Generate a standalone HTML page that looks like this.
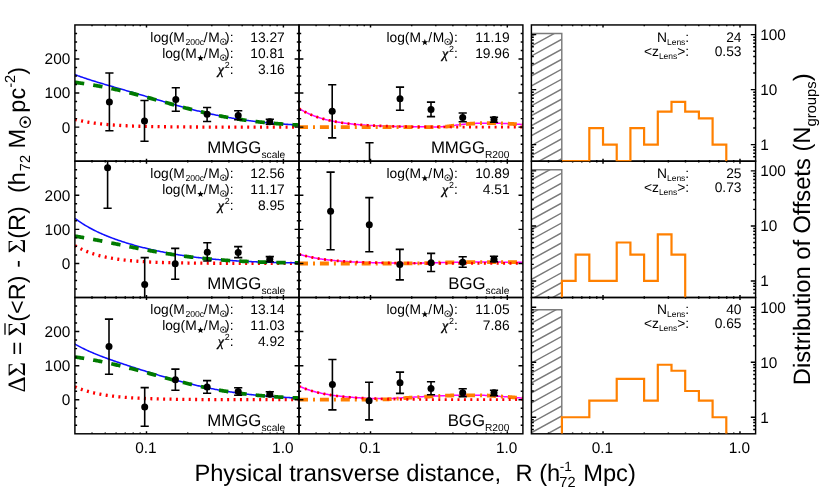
<!DOCTYPE html>
<html><head><meta charset="utf-8"><title>Lensing profiles</title>
<style>html,body{margin:0;padding:0;background:#fff;}body{width:830px;height:498px;overflow:hidden;font-family:"Liberation Sans",sans-serif;}svg{display:block;will-change:transform;}svg text{white-space:pre;font-kerning:none;font-variant-ligatures:none;}</style>
</head><body>
<svg width="830" height="498" viewBox="0 0 830 498" font-family="Liberation Sans, sans-serif" fill="#000" text-rendering="geometricPrecision">
<rect x="0" y="0" width="830" height="498" fill="#fff"/>
<defs>
<clipPath id="c00"><rect x="74.9" y="24.95" width="224.1" height="136.25"/></clipPath>
<clipPath id="c01"><rect x="74.9" y="161.2" width="224.1" height="136.3"/></clipPath>
<clipPath id="c02"><rect x="74.9" y="297.5" width="224.1" height="136.3"/></clipPath>
<clipPath id="c10"><rect x="299" y="24.95" width="223.9" height="136.25"/></clipPath>
<clipPath id="c11"><rect x="299" y="161.2" width="223.9" height="136.3"/></clipPath>
<clipPath id="c12"><rect x="299" y="297.5" width="223.9" height="136.3"/></clipPath>
<clipPath id="c20"><rect x="531.4" y="24.95" width="224.2" height="136.25"/></clipPath>
<clipPath id="c21"><rect x="531.4" y="161.2" width="224.2" height="136.3"/></clipPath>
<clipPath id="c22"><rect x="531.4" y="297.5" width="224.2" height="136.3"/></clipPath>
</defs>
<g clip-path="url(#c20)">
<clipPath id="h0"><rect x="531.4" y="33.55" width="30.39" height="127.65"/></clipPath>
<path d="M530.4 36.66 L562.79 18.85 M530.4 46.61 L562.79 28.8 M530.4 56.56 L562.79 38.75 M530.4 66.51 L562.79 48.7 M530.4 76.46 L562.79 58.65 M530.4 86.41 L562.79 68.6 M530.4 96.36 L562.79 78.55 M530.4 106.31 L562.79 88.5 M530.4 116.26 L562.79 98.45 M530.4 126.21 L562.79 108.4 M530.4 136.16 L562.79 118.35 M530.4 146.11 L562.79 128.3 M530.4 156.06 L562.79 138.25 M530.4 166.01 L562.79 148.2 M530.4 175.96 L562.79 158.15 M530.4 185.91 L562.79 168.1 M530.4 195.86 L562.79 178.05 M530.4 205.81 L562.79 188 M530.4 215.76 L562.79 197.95" stroke="#7a7a7a" stroke-width="1.45" fill="none" clip-path="url(#h0)"/>
<path d="M531.4 33.55 L561.79 33.55 L561.79 161.2" stroke="#7a7a7a" stroke-width="1.45" fill="none"/>
</g>
<g clip-path="url(#c21)">
<clipPath id="h1"><rect x="531.4" y="169.8" width="30.39" height="127.7"/></clipPath>
<path d="M530.4 170.46 L562.79 152.65 M530.4 180.41 L562.79 162.6 M530.4 190.36 L562.79 172.55 M530.4 200.31 L562.79 182.5 M530.4 210.26 L562.79 192.45 M530.4 220.21 L562.79 202.4 M530.4 230.16 L562.79 212.35 M530.4 240.11 L562.79 222.3 M530.4 250.06 L562.79 232.25 M530.4 260.01 L562.79 242.2 M530.4 269.96 L562.79 252.15 M530.4 279.91 L562.79 262.1 M530.4 289.86 L562.79 272.05 M530.4 299.81 L562.79 282 M530.4 309.76 L562.79 291.95 M530.4 319.71 L562.79 301.9 M530.4 329.66 L562.79 311.85 M530.4 339.61 L562.79 321.8 M530.4 349.56 L562.79 331.75" stroke="#7a7a7a" stroke-width="1.45" fill="none" clip-path="url(#h1)"/>
<path d="M531.4 169.8 L561.79 169.8 L561.79 297.5" stroke="#7a7a7a" stroke-width="1.45" fill="none"/>
</g>
<g clip-path="url(#c22)">
<clipPath id="h2"><rect x="531.4" y="309.8" width="30.39" height="124"/></clipPath>
<path d="M530.4 313.86 L562.79 296.05 M530.4 323.81 L562.79 306 M530.4 333.76 L562.79 315.95 M530.4 343.71 L562.79 325.9 M530.4 353.66 L562.79 335.85 M530.4 363.61 L562.79 345.8 M530.4 373.56 L562.79 355.75 M530.4 383.51 L562.79 365.7 M530.4 393.46 L562.79 375.65 M530.4 403.41 L562.79 385.6 M530.4 413.36 L562.79 395.55 M530.4 423.31 L562.79 405.5 M530.4 433.26 L562.79 415.45 M530.4 443.21 L562.79 425.4 M530.4 453.16 L562.79 435.35 M530.4 463.11 L562.79 445.3 M530.4 473.06 L562.79 455.25 M530.4 483.01 L562.79 465.2" stroke="#7a7a7a" stroke-width="1.45" fill="none" clip-path="url(#h2)"/>
<path d="M531.4 309.8 L561.79 309.8 L561.79 433.8" stroke="#7a7a7a" stroke-width="1.45" fill="none"/>
</g>
<g clip-path="url(#c00)" fill="none">
<path d="M74.90 119.36 L75.84 119.60 L76.78 119.83 L77.71 120.06 L78.65 120.28 L79.59 120.49 L80.53 120.70 L81.46 120.90 L82.40 121.09 L83.34 121.28 L84.28 121.46 L85.21 121.64 L86.15 121.81 L87.09 121.98 L88.03 122.14 L88.96 122.29 L89.90 122.44 L90.84 122.59 L91.78 122.73 L92.72 122.87 L93.65 123.00 L94.59 123.13 L95.53 123.25 L96.47 123.37 L97.40 123.49 L98.34 123.60 L99.28 123.71 L100.22 123.82 L101.15 123.92 L102.09 124.02 L103.03 124.12 L103.97 124.21 L104.91 124.30 L105.84 124.39 L106.78 124.48 L107.72 124.56 L108.66 124.64 L109.59 124.72 L110.53 124.79 L111.47 124.86 L112.41 124.93 L113.34 125.00 L114.28 125.07 L115.22 125.13 L116.16 125.20 L117.09 125.26 L118.03 125.31 L118.97 125.37 L119.91 125.43 L120.85 125.48 L121.78 125.53 L122.72 125.58 L123.66 125.63 L124.60 125.68 L125.53 125.72 L126.47 125.76 L127.41 125.81 L128.35 125.85 L129.28 125.89 L130.22 125.93 L131.16 125.97 L132.10 126.00 L133.03 126.04 L133.97 126.07 L134.91 126.10 L135.85 126.14 L136.79 126.17 L137.72 126.20 L138.66 126.23 L139.60 126.25 L140.54 126.28 L141.47 126.31 L142.41 126.33 L143.35 126.36 L144.29 126.38 L145.22 126.41 L146.16 126.43 L147.10 126.45 L148.04 126.47 L148.97 126.49 L149.91 126.51 L150.85 126.53 L151.79 126.55 L152.73 126.57 L153.66 126.59 L154.60 126.60 L155.54 126.62 L156.48 126.64 L157.41 126.65 L158.35 126.67 L159.29 126.68 L160.23 126.70 L161.16 126.71 L162.10 126.72 L163.04 126.74 L163.98 126.75 L164.92 126.76 L165.85 126.77 L166.79 126.78 L167.73 126.79 L168.67 126.81 L169.60 126.82 L170.54 126.83 L171.48 126.84 L172.42 126.84 L173.35 126.85 L174.29 126.86 L175.23 126.87 L176.17 126.88 L177.10 126.89 L178.04 126.90 L178.98 126.90 L179.92 126.91 L180.86 126.92 L181.79 126.92 L182.73 126.93 L183.67 126.94 L184.61 126.94 L185.54 126.95 L186.48 126.96 L187.42 126.96 L188.36 126.97 L189.29 126.97 L190.23 126.98 L191.17 126.98 L192.11 126.99 L193.04 126.99 L193.98 127.00 L194.92 127.00 L195.86 127.00 L196.80 127.01 L197.73 127.01 L198.67 127.02 L199.61 127.02 L200.55 127.02 L201.48 127.03 L202.42 127.03 L203.36 127.03 L204.30 127.04 L205.23 127.04 L206.17 127.04 L207.11 127.05 L208.05 127.05 L208.98 127.05 L209.92 127.05 L210.86 127.06 L211.80 127.06 L212.74 127.06 L213.67 127.06 L214.61 127.07 L215.55 127.07 L216.49 127.07 L217.42 127.07 L218.36 127.08 L219.30 127.08 L220.24 127.08 L221.17 127.08 L222.11 127.08 L223.05 127.08 L223.99 127.09 L224.93 127.09 L225.86 127.09 L226.80 127.09 L227.74 127.09 L228.68 127.09 L229.61 127.09 L230.55 127.10 L231.49 127.10 L232.43 127.10 L233.36 127.10 L234.30 127.10 L235.24 127.10 L236.18 127.10 L237.11 127.10 L238.05 127.11 L238.99 127.11 L239.93 127.11 L240.87 127.11 L241.80 127.11 L242.74 127.11 L243.68 127.11 L244.62 127.11 L245.55 127.11 L246.49 127.11 L247.43 127.11 L248.37 127.11 L249.30 127.12 L250.24 127.12 L251.18 127.12 L252.12 127.12 L253.05 127.12 L253.99 127.12 L254.93 127.12 L255.87 127.12 L256.81 127.12 L257.74 127.12 L258.68 127.12 L259.62 127.12 L260.56 127.12 L261.49 127.12 L262.43 127.12 L263.37 127.12 L264.31 127.12 L265.24 127.12 L266.18 127.13 L267.12 127.13 L268.06 127.13 L268.99 127.13 L269.93 127.13 L270.87 127.13 L271.81 127.13 L272.75 127.13 L273.68 127.13 L274.62 127.13 L275.56 127.13 L276.50 127.13 L277.43 127.13 L278.37 127.13 L279.31 127.13 L280.25 127.13 L281.18 127.13 L282.12 127.13 L283.06 127.13 L284.00 127.13 L284.94 127.13 L285.87 127.13 L286.81 127.13 L287.75 127.13 L288.69 127.13 L289.62 127.13 L290.56 127.13 L291.50 127.13 L292.44 127.13 L293.37 127.13 L294.31 127.13 L295.25 127.13 L296.19 127.13 L297.12 127.13 L298.06 127.13 L299.00 127.13" stroke="#ff0000" stroke-width="3.3" stroke-dasharray="2 4.4"/>
<path d="M74.90 74.55 L75.84 74.92 L76.78 75.27 L77.71 75.63 L78.65 75.97 L79.59 76.32 L80.53 76.65 L81.46 76.99 L82.40 77.32 L83.34 77.64 L84.28 77.96 L85.21 78.28 L86.15 78.60 L87.09 78.91 L88.03 79.22 L88.96 79.52 L89.90 79.82 L90.84 80.12 L91.78 80.42 L92.72 80.72 L93.65 81.01 L94.59 81.30 L95.53 81.59 L96.47 81.87 L97.40 82.16 L98.34 82.44 L99.28 82.73 L100.22 83.01 L101.15 83.29 L102.09 83.56 L103.03 83.84 L103.97 84.12 L104.91 84.39 L105.84 84.67 L106.78 84.94 L107.72 85.22 L108.66 85.49 L109.59 85.76 L110.53 86.03 L111.47 86.30 L112.41 86.58 L113.34 86.85 L114.28 87.12 L115.22 87.39 L116.16 87.66 L117.09 87.93 L118.03 88.20 L118.97 88.47 L119.91 88.74 L120.85 89.01 L121.78 89.28 L122.72 89.55 L123.66 89.83 L124.60 90.10 L125.53 90.37 L126.47 90.64 L127.41 90.91 L128.35 91.18 L129.28 91.46 L130.22 91.73 L131.16 92.00 L132.10 92.28 L133.03 92.55 L133.97 92.82 L134.91 93.10 L135.85 93.37 L136.79 93.65 L137.72 93.92 L138.66 94.20 L139.60 94.47 L140.54 94.75 L141.47 95.02 L142.41 95.30 L143.35 95.58 L144.29 95.85 L145.22 96.13 L146.16 96.41 L147.10 96.68 L148.04 96.96 L148.97 97.24 L149.91 97.51 L150.85 97.79 L151.79 98.07 L152.73 98.34 L153.66 98.62 L154.60 98.90 L155.54 99.17 L156.48 99.45 L157.41 99.73 L158.35 100.00 L159.29 100.28 L160.23 100.55 L161.16 100.83 L162.10 101.10 L163.04 101.38 L163.98 101.65 L164.92 101.92 L165.85 102.20 L166.79 102.47 L167.73 102.74 L168.67 103.01 L169.60 103.28 L170.54 103.55 L171.48 103.82 L172.42 104.09 L173.35 104.35 L174.29 104.62 L175.23 104.88 L176.17 105.15 L177.10 105.41 L178.04 105.67 L178.98 105.94 L179.92 106.20 L180.86 106.46 L181.79 106.71 L182.73 106.97 L183.67 107.23 L184.61 107.48 L185.54 107.73 L186.48 107.98 L187.42 108.23 L188.36 108.48 L189.29 108.73 L190.23 108.98 L191.17 109.22 L192.11 109.46 L193.04 109.70 L193.98 109.94 L194.92 110.18 L195.86 110.42 L196.80 110.65 L197.73 110.89 L198.67 111.12 L199.61 111.35 L200.55 111.58 L201.48 111.80 L202.42 112.03 L203.36 112.25 L204.30 112.47 L205.23 112.69 L206.17 112.90 L207.11 113.12 L208.05 113.33 L208.98 113.54 L209.92 113.75 L210.86 113.96 L211.80 114.17 L212.74 114.37 L213.67 114.57 L214.61 114.77 L215.55 114.97 L216.49 115.16 L217.42 115.36 L218.36 115.55 L219.30 115.74 L220.24 115.92 L221.17 116.11 L222.11 116.29 L223.05 116.47 L223.99 116.65 L224.93 116.83 L225.86 117.00 L226.80 117.17 L227.74 117.35 L228.68 117.51 L229.61 117.68 L230.55 117.84 L231.49 118.01 L232.43 118.17 L233.36 118.33 L234.30 118.48 L235.24 118.64 L236.18 118.79 L237.11 118.94 L238.05 119.09 L238.99 119.23 L239.93 119.38 L240.87 119.52 L241.80 119.66 L242.74 119.80 L243.68 119.93 L244.62 120.07 L245.55 120.20 L246.49 120.33 L247.43 120.46 L248.37 120.58 L249.30 120.71 L250.24 120.83 L251.18 120.95 L252.12 121.07 L253.05 121.19 L253.99 121.30 L254.93 121.42 L255.87 121.53 L256.81 121.64 L257.74 121.75 L258.68 121.85 L259.62 121.96 L260.56 122.06 L261.49 122.16 L262.43 122.26 L263.37 122.36 L264.31 122.46 L265.24 122.55 L266.18 122.64 L267.12 122.74 L268.06 122.83 L268.99 122.91 L269.93 123.00 L270.87 123.09 L271.81 123.17 L272.75 123.25 L273.68 123.33 L274.62 123.41 L275.56 123.49 L276.50 123.57 L277.43 123.64 L278.37 123.72 L279.31 123.79 L280.25 123.86 L281.18 123.93 L282.12 124.00 L283.06 124.07 L284.00 124.13 L284.94 124.20 L285.87 124.26 L286.81 124.32 L287.75 124.39 L288.69 124.45 L289.62 124.50 L290.56 124.56 L291.50 124.62 L292.44 124.67 L293.37 124.73 L294.31 124.78 L295.25 124.83 L296.19 124.89 L297.12 124.94 L298.06 124.98 L299.00 125.03" stroke="#1010ff" stroke-width="1.55"/>
<path d="M74.90 82.33 L75.84 82.45 L76.78 82.58 L77.71 82.70 L78.65 82.83 L79.59 82.96 L80.53 83.09 L81.46 83.23 L82.40 83.36 L83.34 83.50 L84.28 83.64 L85.21 83.78 L86.15 83.92 L87.09 84.07 L88.03 84.22 L88.96 84.37 L89.90 84.52 L90.84 84.67 L91.78 84.83 L92.72 84.99 L93.65 85.15 L94.59 85.31 L95.53 85.47 L96.47 85.64 L97.40 85.81 L98.34 85.98 L99.28 86.15 L100.22 86.33 L101.15 86.50 L102.09 86.68 L103.03 86.86 L103.97 87.04 L104.91 87.23 L105.84 87.42 L106.78 87.60 L107.72 87.80 L108.66 87.99 L109.59 88.18 L110.53 88.38 L111.47 88.58 L112.41 88.78 L113.34 88.98 L114.28 89.19 L115.22 89.39 L116.16 89.60 L117.09 89.81 L118.03 90.02 L118.97 90.24 L119.91 90.45 L120.85 90.67 L121.78 90.89 L122.72 91.11 L123.66 91.33 L124.60 91.56 L125.53 91.78 L126.47 92.01 L127.41 92.24 L128.35 92.47 L129.28 92.70 L130.22 92.94 L131.16 93.17 L132.10 93.41 L133.03 93.65 L133.97 93.89 L134.91 94.13 L135.85 94.37 L136.79 94.62 L137.72 94.86 L138.66 95.11 L139.60 95.35 L140.54 95.60 L141.47 95.85 L142.41 96.10 L143.35 96.35 L144.29 96.61 L145.22 96.86 L146.16 97.11 L147.10 97.37 L148.04 97.62 L148.97 97.88 L149.91 98.14 L150.85 98.39 L151.79 98.65 L152.73 98.91 L153.66 99.17 L154.60 99.43 L155.54 99.69 L156.48 99.95 L157.41 100.21 L158.35 100.47 L159.29 100.73 L160.23 100.99 L161.16 101.25 L162.10 101.52 L163.04 101.78 L163.98 102.04 L164.92 102.30 L165.85 102.56 L166.79 102.82 L167.73 103.08 L168.67 103.34 L169.60 103.60 L170.54 103.86 L171.48 104.12 L172.42 104.38 L173.35 104.64 L174.29 104.89 L175.23 105.15 L176.17 105.41 L177.10 105.66 L178.04 105.92 L178.98 106.17 L179.92 106.42 L180.86 106.68 L181.79 106.93 L182.73 107.18 L183.67 107.43 L184.61 107.67 L185.54 107.92 L186.48 108.17 L187.42 108.41 L188.36 108.65 L189.29 108.90 L190.23 109.14 L191.17 109.38 L192.11 109.61 L193.04 109.85 L193.98 110.09 L194.92 110.32 L195.86 110.55 L196.80 110.78 L197.73 111.01 L198.67 111.24 L199.61 111.46 L200.55 111.69 L201.48 111.91 L202.42 112.13 L203.36 112.35 L204.30 112.57 L205.23 112.78 L206.17 113.00 L207.11 113.21 L208.05 113.42 L208.98 113.63 L209.92 113.84 L210.86 114.04 L211.80 114.24 L212.74 114.44 L213.67 114.64 L214.61 114.84 L215.55 115.04 L216.49 115.23 L217.42 115.42 L218.36 115.61 L219.30 115.80 L220.24 115.98 L221.17 116.16 L222.11 116.35 L223.05 116.52 L223.99 116.70 L224.93 116.88 L225.86 117.05 L226.80 117.22 L227.74 117.39 L228.68 117.56 L229.61 117.72 L230.55 117.89 L231.49 118.05 L232.43 118.21 L233.36 118.36 L234.30 118.52 L235.24 118.67 L236.18 118.82 L237.11 118.97 L238.05 119.12 L238.99 119.26 L239.93 119.41 L240.87 119.55 L241.80 119.69 L242.74 119.82 L243.68 119.96 L244.62 120.09 L245.55 120.22 L246.49 120.35 L247.43 120.48 L248.37 120.61 L249.30 120.73 L250.24 120.85 L251.18 120.97 L252.12 121.09 L253.05 121.21 L253.99 121.32 L254.93 121.44 L255.87 121.55 L256.81 121.66 L257.74 121.76 L258.68 121.87 L259.62 121.97 L260.56 122.08 L261.49 122.18 L262.43 122.28 L263.37 122.37 L264.31 122.47 L265.24 122.56 L266.18 122.66 L267.12 122.75 L268.06 122.84 L268.99 122.93 L269.93 123.01 L270.87 123.10 L271.81 123.18 L272.75 123.26 L273.68 123.34 L274.62 123.42 L275.56 123.50 L276.50 123.58 L277.43 123.65 L278.37 123.73 L279.31 123.80 L280.25 123.87 L281.18 123.94 L282.12 124.01 L283.06 124.07 L284.00 124.14 L284.94 124.21 L285.87 124.27 L286.81 124.33 L287.75 124.39 L288.69 124.45 L289.62 124.51 L290.56 124.57 L291.50 124.62 L292.44 124.68 L293.37 124.73 L294.31 124.79 L295.25 124.84 L296.19 124.89 L297.12 124.94 L298.06 124.99 L299.00 125.04" stroke="#007a00" stroke-width="3.7" stroke-dasharray="9.4 9.1"/>
</g>
<g clip-path="url(#c10)" fill="none">
<path d="M299.00 108.48 L299.94 109.06 L300.87 109.62 L301.81 110.16 L302.75 110.69 L303.68 111.20 L304.62 111.70 L305.56 112.18 L306.49 112.64 L307.43 113.09 L308.37 113.53 L309.31 113.95 L310.24 114.36 L311.18 114.75 L312.12 115.14 L313.05 115.51 L313.99 115.87 L314.93 116.22 L315.86 116.56 L316.80 116.89 L317.74 117.21 L318.67 117.52 L319.61 117.81 L320.55 118.10 L321.48 118.38 L322.42 118.66 L323.36 118.92 L324.29 119.17 L325.23 119.42 L326.17 119.66 L327.10 119.89 L328.04 120.12 L328.98 120.34 L329.92 120.55 L330.85 120.75 L331.79 120.95 L332.73 121.14 L333.66 121.33 L334.60 121.51 L335.54 121.68 L336.47 121.85 L337.41 122.02 L338.35 122.18 L339.28 122.33 L340.22 122.48 L341.16 122.62 L342.09 122.76 L343.03 122.90 L343.97 123.03 L344.90 123.16 L345.84 123.28 L346.78 123.40 L347.71 123.52 L348.65 123.63 L349.59 123.74 L350.53 123.84 L351.46 123.95 L352.40 124.05 L353.34 124.14 L354.27 124.24 L355.21 124.33 L356.15 124.41 L357.08 124.50 L358.02 124.58 L358.96 124.66 L359.89 124.74 L360.83 124.81 L361.77 124.88 L362.70 124.95 L363.64 125.02 L364.58 125.09 L365.51 125.15 L366.45 125.21 L367.39 125.27 L368.32 125.33 L369.26 125.39 L370.20 125.44 L371.14 125.49 L372.07 125.54 L373.01 125.59 L373.95 125.64 L374.88 125.69 L375.82 125.73 L376.76 125.78 L377.69 125.82 L378.63 125.86 L379.57 125.90 L380.50 125.94 L381.44 125.97 L382.38 126.01 L383.31 126.05 L384.25 126.08 L385.19 126.11 L386.12 126.14 L387.06 126.18 L388.00 126.21 L388.93 126.23 L389.87 126.26 L390.81 126.29 L391.75 126.32 L392.68 126.34 L393.62 126.37 L394.56 126.39 L395.49 126.41 L396.43 126.44 L397.37 126.46 L398.30 126.48 L399.24 126.50 L400.18 126.52 L401.11 126.54 L402.05 126.56 L402.99 126.57 L403.92 126.59 L404.86 126.61 L405.80 126.63 L406.73 126.64 L407.67 126.66 L408.61 126.67 L409.54 126.69 L410.48 126.70 L411.42 126.71 L412.36 126.73 L413.29 126.74 L414.23 126.75 L415.17 126.76 L416.10 126.78 L417.04 126.79 L417.98 126.80 L418.91 126.81 L419.85 126.82 L420.79 126.83 L421.72 126.84 L422.66 126.85 L423.60 126.86 L424.53 126.86 L425.47 126.87 L426.41 126.88 L427.34 126.89 L428.28 126.90 L429.22 126.90 L430.15 126.91 L431.09 126.92 L432.03 126.93 L432.97 126.93 L433.90 126.94 L434.84 126.94 L435.78 126.92 L436.71 126.89 L437.65 126.86 L438.59 126.83 L439.52 126.79 L440.46 126.75 L441.40 126.71 L442.33 126.66 L443.27 126.61 L444.21 126.57 L445.14 126.51 L446.08 126.46 L447.02 126.40 L447.95 126.31 L448.89 126.21 L449.83 126.09 L450.76 125.96 L451.70 125.82 L452.64 125.67 L453.58 125.53 L454.51 125.38 L455.45 125.25 L456.39 125.11 L457.32 124.99 L458.26 124.88 L459.20 124.78 L460.13 124.67 L461.07 124.57 L462.01 124.47 L462.94 124.37 L463.88 124.27 L464.82 124.17 L465.75 124.08 L466.69 124.00 L467.63 123.92 L468.56 123.84 L469.50 123.77 L470.44 123.71 L471.37 123.65 L472.31 123.59 L473.25 123.52 L474.19 123.46 L475.12 123.40 L476.06 123.35 L477.00 123.30 L477.93 123.25 L478.87 123.22 L479.81 123.19 L480.74 123.17 L481.68 123.16 L482.62 123.16 L483.55 123.16 L484.49 123.16 L485.43 123.16 L486.36 123.17 L487.30 123.17 L488.24 123.17 L489.17 123.17 L490.11 123.17 L491.05 123.17 L491.98 123.17 L492.92 123.17 L493.86 123.17 L494.80 123.17 L495.73 123.18 L496.67 123.18 L497.61 123.19 L498.54 123.21 L499.48 123.24 L500.42 123.27 L501.35 123.31 L502.29 123.36 L503.23 123.41 L504.16 123.46 L505.10 123.51 L506.04 123.56 L506.97 123.62 L507.91 123.67 L508.85 123.72 L509.78 123.77 L510.72 123.82 L511.66 123.87 L512.59 123.92 L513.53 123.97 L514.47 124.03 L515.41 124.08 L516.34 124.14 L517.28 124.19 L518.22 124.25 L519.15 124.31 L520.09 124.37 L521.03 124.43 L521.96 124.49 L522.90 124.56" stroke="#ff00ff" stroke-width="1.5"/>
<path d="M299.00 127.20 L299.94 127.20 L300.87 127.20 L301.81 127.20 L302.75 127.20 L303.68 127.20 L304.62 127.20 L305.56 127.20 L306.49 127.20 L307.43 127.20 L308.37 127.20 L309.31 127.20 L310.24 127.20 L311.18 127.20 L312.12 127.20 L313.05 127.20 L313.99 127.20 L314.93 127.20 L315.86 127.20 L316.80 127.20 L317.74 127.20 L318.67 127.20 L319.61 127.20 L320.55 127.20 L321.48 127.20 L322.42 127.20 L323.36 127.20 L324.29 127.20 L325.23 127.20 L326.17 127.20 L327.10 127.20 L328.04 127.20 L328.98 127.20 L329.92 127.20 L330.85 127.20 L331.79 127.20 L332.73 127.20 L333.66 127.20 L334.60 127.20 L335.54 127.20 L336.47 127.20 L337.41 127.20 L338.35 127.20 L339.28 127.20 L340.22 127.20 L341.16 127.20 L342.09 127.20 L343.03 127.20 L343.97 127.20 L344.90 127.20 L345.84 127.20 L346.78 127.20 L347.71 127.20 L348.65 127.20 L349.59 127.20 L350.53 127.20 L351.46 127.20 L352.40 127.20 L353.34 127.20 L354.27 127.20 L355.21 127.20 L356.15 127.20 L357.08 127.20 L358.02 127.20 L358.96 127.20 L359.89 127.20 L360.83 127.20 L361.77 127.20 L362.70 127.20 L363.64 127.20 L364.58 127.20 L365.51 127.20 L366.45 127.20 L367.39 127.20 L368.32 127.20 L369.26 127.20 L370.20 127.20 L371.14 127.20 L372.07 127.20 L373.01 127.20 L373.95 127.20 L374.88 127.20 L375.82 127.20 L376.76 127.20 L377.69 127.20 L378.63 127.20 L379.57 127.20 L380.50 127.20 L381.44 127.20 L382.38 127.20 L383.31 127.20 L384.25 127.20 L385.19 127.20 L386.12 127.20 L387.06 127.20 L388.00 127.20 L388.93 127.20 L389.87 127.20 L390.81 127.20 L391.75 127.20 L392.68 127.20 L393.62 127.20 L394.56 127.20 L395.49 127.20 L396.43 127.20 L397.37 127.20 L398.30 127.20 L399.24 127.20 L400.18 127.20 L401.11 127.20 L402.05 127.20 L402.99 127.20 L403.92 127.20 L404.86 127.20 L405.80 127.20 L406.73 127.20 L407.67 127.20 L408.61 127.20 L409.54 127.20 L410.48 127.20 L411.42 127.20 L412.36 127.20 L413.29 127.20 L414.23 127.20 L415.17 127.20 L416.10 127.20 L417.04 127.20 L417.98 127.20 L418.91 127.20 L419.85 127.20 L420.79 127.20 L421.72 127.20 L422.66 127.20 L423.60 127.20 L424.53 127.20 L425.47 127.20 L426.41 127.20 L427.34 127.20 L428.28 127.20 L429.22 127.20 L430.15 127.20 L431.09 127.20 L432.03 127.19 L432.97 127.17 L433.90 127.15 L434.84 127.13 L435.78 127.10 L436.71 127.07 L437.65 127.03 L438.59 127.00 L439.52 126.95 L440.46 126.91 L441.40 126.86 L442.33 126.81 L443.27 126.76 L444.21 126.71 L445.14 126.65 L446.08 126.60 L447.02 126.53 L447.95 126.43 L448.89 126.33 L449.83 126.20 L450.76 126.07 L451.70 125.93 L452.64 125.78 L453.58 125.63 L454.51 125.48 L455.45 125.34 L456.39 125.21 L457.32 125.08 L458.26 124.97 L459.20 124.86 L460.13 124.76 L461.07 124.65 L462.01 124.54 L462.94 124.44 L463.88 124.34 L464.82 124.24 L465.75 124.15 L466.69 124.06 L467.63 123.98 L468.56 123.90 L469.50 123.83 L470.44 123.77 L471.37 123.71 L472.31 123.64 L473.25 123.58 L474.19 123.51 L475.12 123.45 L476.06 123.40 L477.00 123.34 L477.93 123.30 L478.87 123.26 L479.81 123.23 L480.74 123.21 L481.68 123.20 L482.62 123.20 L483.55 123.20 L484.49 123.20 L485.43 123.20 L486.36 123.20 L487.30 123.20 L488.24 123.20 L489.17 123.20 L490.11 123.20 L491.05 123.20 L491.98 123.20 L492.92 123.20 L493.86 123.20 L494.80 123.20 L495.73 123.20 L496.67 123.20 L497.61 123.21 L498.54 123.23 L499.48 123.26 L500.42 123.29 L501.35 123.33 L502.29 123.38 L503.23 123.42 L504.16 123.47 L505.10 123.53 L506.04 123.58 L506.97 123.64 L507.91 123.69 L508.85 123.74 L509.78 123.79 L510.72 123.84 L511.66 123.89 L512.59 123.94 L513.53 123.99 L514.47 124.04 L515.41 124.09 L516.34 124.15 L517.28 124.20 L518.22 124.26 L519.15 124.32 L520.09 124.38 L521.03 124.44 L521.96 124.50 L522.90 124.57" stroke="#ff8000" stroke-width="3.8" stroke-dasharray="9 5 2 4.9"/>
<path d="M299.00 108.48 L299.94 109.06 L300.87 109.62 L301.81 110.16 L302.75 110.69 L303.68 111.20 L304.62 111.70 L305.56 112.18 L306.49 112.64 L307.43 113.09 L308.37 113.53 L309.31 113.95 L310.24 114.36 L311.18 114.75 L312.12 115.14 L313.05 115.51 L313.99 115.87 L314.93 116.22 L315.86 116.56 L316.80 116.89 L317.74 117.21 L318.67 117.52 L319.61 117.81 L320.55 118.10 L321.48 118.38 L322.42 118.66 L323.36 118.92 L324.29 119.17 L325.23 119.42 L326.17 119.66 L327.10 119.89 L328.04 120.12 L328.98 120.34 L329.92 120.55 L330.85 120.75 L331.79 120.95 L332.73 121.14 L333.66 121.33 L334.60 121.51 L335.54 121.68 L336.47 121.85 L337.41 122.02 L338.35 122.18 L339.28 122.33 L340.22 122.48 L341.16 122.62 L342.09 122.76 L343.03 122.90 L343.97 123.03 L344.90 123.16 L345.84 123.28 L346.78 123.40 L347.71 123.52 L348.65 123.63 L349.59 123.74 L350.53 123.84 L351.46 123.95 L352.40 124.05 L353.34 124.14 L354.27 124.24 L355.21 124.33 L356.15 124.41 L357.08 124.50 L358.02 124.58 L358.96 124.66 L359.89 124.74 L360.83 124.81 L361.77 124.88 L362.70 124.95 L363.64 125.02 L364.58 125.09 L365.51 125.15 L366.45 125.21 L367.39 125.27 L368.32 125.33 L369.26 125.39 L370.20 125.44 L371.14 125.49 L372.07 125.54 L373.01 125.59 L373.95 125.64 L374.88 125.69 L375.82 125.73 L376.76 125.78 L377.69 125.82 L378.63 125.86 L379.57 125.90 L380.50 125.94 L381.44 125.97 L382.38 126.01 L383.31 126.05 L384.25 126.08 L385.19 126.11 L386.12 126.14 L387.06 126.18 L388.00 126.21 L388.93 126.23 L389.87 126.26 L390.81 126.29 L391.75 126.32 L392.68 126.34 L393.62 126.37 L394.56 126.39 L395.49 126.41 L396.43 126.44 L397.37 126.46 L398.30 126.48 L399.24 126.50 L400.18 126.52 L401.11 126.54 L402.05 126.56 L402.99 126.57 L403.92 126.59 L404.86 126.61 L405.80 126.63 L406.73 126.64 L407.67 126.66 L408.61 126.67 L409.54 126.69 L410.48 126.70 L411.42 126.71 L412.36 126.73 L413.29 126.74 L414.23 126.75 L415.17 126.76 L416.10 126.78 L417.04 126.79 L417.98 126.80 L418.91 126.81 L419.85 126.82 L420.79 126.83 L421.72 126.84 L422.66 126.85 L423.60 126.86 L424.53 126.86 L425.47 126.87 L426.41 126.88 L427.34 126.89 L428.28 126.90 L429.22 126.90 L430.15 126.91 L431.09 126.92 L432.03 126.93 L432.97 126.93 L433.90 126.94 L434.84 126.94 L435.78 126.95 L436.71 126.96 L437.65 126.96 L438.59 126.97 L439.52 126.97 L440.46 126.98 L441.40 126.98 L442.33 126.99 L443.27 126.99 L444.21 127.00 L445.14 127.00 L446.08 127.01 L447.02 127.01 L447.95 127.01 L448.89 127.02 L449.83 127.02 L450.76 127.02 L451.70 127.03 L452.64 127.03 L453.58 127.03 L454.51 127.04 L455.45 127.04 L456.39 127.04 L457.32 127.05 L458.26 127.05 L459.20 127.05 L460.13 127.06 L461.07 127.06 L462.01 127.06 L462.94 127.06 L463.88 127.07 L464.82 127.07 L465.75 127.07 L466.69 127.07 L467.63 127.07 L468.56 127.08 L469.50 127.08 L470.44 127.08 L471.37 127.08 L472.31 127.08 L473.25 127.08 L474.19 127.09 L475.12 127.09 L476.06 127.09 L477.00 127.09 L477.93 127.09 L478.87 127.09 L479.81 127.10 L480.74 127.10 L481.68 127.10 L482.62 127.10 L483.55 127.10 L484.49 127.10 L485.43 127.10 L486.36 127.10 L487.30 127.10 L488.24 127.11 L489.17 127.11 L490.11 127.11 L491.05 127.11 L491.98 127.11 L492.92 127.11 L493.86 127.11 L494.80 127.11 L495.73 127.11 L496.67 127.11 L497.61 127.11 L498.54 127.11 L499.48 127.12 L500.42 127.12 L501.35 127.12 L502.29 127.12 L503.23 127.12 L504.16 127.12 L505.10 127.12 L506.04 127.12 L506.97 127.12 L507.91 127.12 L508.85 127.12 L509.78 127.12 L510.72 127.12 L511.66 127.12 L512.59 127.12 L513.53 127.12 L514.47 127.12 L515.41 127.12 L516.34 127.13 L517.28 127.13 L518.22 127.13 L519.15 127.13 L520.09 127.13 L521.03 127.13 L521.96 127.13 L522.90 127.13" stroke="#ff0000" stroke-width="2.7" stroke-dasharray="2 4.4"/>
</g>
<g clip-path="url(#c01)" fill="none">
<path d="M74.90 245.60 L75.84 246.15 L76.78 246.69 L77.71 247.21 L78.65 247.71 L79.59 248.20 L80.53 248.67 L81.46 249.13 L82.40 249.57 L83.34 250.00 L84.28 250.42 L85.21 250.82 L86.15 251.22 L87.09 251.60 L88.03 251.96 L88.96 252.32 L89.90 252.66 L90.84 253.00 L91.78 253.32 L92.72 253.63 L93.65 253.94 L94.59 254.23 L95.53 254.52 L96.47 254.80 L97.40 255.06 L98.34 255.32 L99.28 255.57 L100.22 255.82 L101.15 256.05 L102.09 256.28 L103.03 256.50 L103.97 256.72 L104.91 256.93 L105.84 257.13 L106.78 257.32 L107.72 257.51 L108.66 257.70 L109.59 257.88 L110.53 258.05 L111.47 258.21 L112.41 258.38 L113.34 258.53 L114.28 258.69 L115.22 258.83 L116.16 258.97 L117.09 259.11 L118.03 259.25 L118.97 259.38 L119.91 259.50 L120.85 259.62 L121.78 259.74 L122.72 259.86 L123.66 259.97 L124.60 260.07 L125.53 260.18 L126.47 260.28 L127.41 260.38 L128.35 260.47 L129.28 260.56 L130.22 260.65 L131.16 260.74 L132.10 260.82 L133.03 260.90 L133.97 260.98 L134.91 261.06 L135.85 261.13 L136.79 261.20 L137.72 261.27 L138.66 261.34 L139.60 261.40 L140.54 261.47 L141.47 261.53 L142.41 261.58 L143.35 261.64 L144.29 261.70 L145.22 261.75 L146.16 261.80 L147.10 261.85 L148.04 261.90 L148.97 261.95 L149.91 262.00 L150.85 262.04 L151.79 262.08 L152.73 262.12 L153.66 262.16 L154.60 262.20 L155.54 262.24 L156.48 262.28 L157.41 262.31 L158.35 262.35 L159.29 262.38 L160.23 262.41 L161.16 262.45 L162.10 262.48 L163.04 262.51 L163.98 262.53 L164.92 262.56 L165.85 262.59 L166.79 262.61 L167.73 262.64 L168.67 262.66 L169.60 262.69 L170.54 262.71 L171.48 262.73 L172.42 262.75 L173.35 262.78 L174.29 262.80 L175.23 262.81 L176.17 262.83 L177.10 262.85 L178.04 262.87 L178.98 262.89 L179.92 262.90 L180.86 262.92 L181.79 262.94 L182.73 262.95 L183.67 262.97 L184.61 262.98 L185.54 262.99 L186.48 263.01 L187.42 263.02 L188.36 263.03 L189.29 263.04 L190.23 263.06 L191.17 263.07 L192.11 263.08 L193.04 263.09 L193.98 263.10 L194.92 263.11 L195.86 263.12 L196.80 263.13 L197.73 263.14 L198.67 263.15 L199.61 263.16 L200.55 263.16 L201.48 263.17 L202.42 263.18 L203.36 263.19 L204.30 263.20 L205.23 263.20 L206.17 263.21 L207.11 263.22 L208.05 263.22 L208.98 263.23 L209.92 263.24 L210.86 263.24 L211.80 263.25 L212.74 263.25 L213.67 263.26 L214.61 263.26 L215.55 263.27 L216.49 263.27 L217.42 263.28 L218.36 263.28 L219.30 263.29 L220.24 263.29 L221.17 263.29 L222.11 263.30 L223.05 263.30 L223.99 263.31 L224.93 263.31 L225.86 263.31 L226.80 263.32 L227.74 263.32 L228.68 263.32 L229.61 263.33 L230.55 263.33 L231.49 263.33 L232.43 263.34 L233.36 263.34 L234.30 263.34 L235.24 263.34 L236.18 263.35 L237.11 263.35 L238.05 263.35 L238.99 263.35 L239.93 263.36 L240.87 263.36 L241.80 263.36 L242.74 263.36 L243.68 263.36 L244.62 263.37 L245.55 263.37 L246.49 263.37 L247.43 263.37 L248.37 263.37 L249.30 263.37 L250.24 263.38 L251.18 263.38 L252.12 263.38 L253.05 263.38 L253.99 263.38 L254.93 263.38 L255.87 263.38 L256.81 263.39 L257.74 263.39 L258.68 263.39 L259.62 263.39 L260.56 263.39 L261.49 263.39 L262.43 263.39 L263.37 263.39 L264.31 263.39 L265.24 263.40 L266.18 263.40 L267.12 263.40 L268.06 263.40 L268.99 263.40 L269.93 263.40 L270.87 263.40 L271.81 263.40 L272.75 263.40 L273.68 263.40 L274.62 263.40 L275.56 263.40 L276.50 263.40 L277.43 263.41 L278.37 263.41 L279.31 263.41 L280.25 263.41 L281.18 263.41 L282.12 263.41 L283.06 263.41 L284.00 263.41 L284.94 263.41 L285.87 263.41 L286.81 263.41 L287.75 263.41 L288.69 263.41 L289.62 263.41 L290.56 263.41 L291.50 263.41 L292.44 263.41 L293.37 263.41 L294.31 263.41 L295.25 263.41 L296.19 263.41 L297.12 263.41 L298.06 263.42 L299.00 263.42" stroke="#ff0000" stroke-width="3.3" stroke-dasharray="2 4.4"/>
<path d="M74.90 218.29 L75.84 219.00 L76.78 219.69 L77.71 220.37 L78.65 221.03 L79.59 221.68 L80.53 222.32 L81.46 222.94 L82.40 223.55 L83.34 224.15 L84.28 224.73 L85.21 225.30 L86.15 225.86 L87.09 226.41 L88.03 226.95 L88.96 227.48 L89.90 228.00 L90.84 228.51 L91.78 229.01 L92.72 229.50 L93.65 229.98 L94.59 230.46 L95.53 230.92 L96.47 231.38 L97.40 231.83 L98.34 232.27 L99.28 232.71 L100.22 233.13 L101.15 233.56 L102.09 233.97 L103.03 234.38 L103.97 234.78 L104.91 235.17 L105.84 235.56 L106.78 235.95 L107.72 236.33 L108.66 236.70 L109.59 237.07 L110.53 237.43 L111.47 237.79 L112.41 238.14 L113.34 238.49 L114.28 238.83 L115.22 239.17 L116.16 239.50 L117.09 239.83 L118.03 240.16 L118.97 240.48 L119.91 240.80 L120.85 241.11 L121.78 241.42 L122.72 241.72 L123.66 242.03 L124.60 242.32 L125.53 242.62 L126.47 242.91 L127.41 243.20 L128.35 243.48 L129.28 243.77 L130.22 244.04 L131.16 244.32 L132.10 244.59 L133.03 244.86 L133.97 245.13 L134.91 245.39 L135.85 245.65 L136.79 245.91 L137.72 246.16 L138.66 246.41 L139.60 246.66 L140.54 246.91 L141.47 247.15 L142.41 247.39 L143.35 247.63 L144.29 247.86 L145.22 248.10 L146.16 248.33 L147.10 248.55 L148.04 248.78 L148.97 249.00 L149.91 249.22 L150.85 249.44 L151.79 249.65 L152.73 249.87 L153.66 250.08 L154.60 250.28 L155.54 250.49 L156.48 250.69 L157.41 250.89 L158.35 251.09 L159.29 251.29 L160.23 251.48 L161.16 251.67 L162.10 251.86 L163.04 252.05 L163.98 252.23 L164.92 252.42 L165.85 252.60 L166.79 252.78 L167.73 252.95 L168.67 253.13 L169.60 253.30 L170.54 253.47 L171.48 253.63 L172.42 253.80 L173.35 253.96 L174.29 254.12 L175.23 254.28 L176.17 254.44 L177.10 254.60 L178.04 254.75 L178.98 254.90 L179.92 255.05 L180.86 255.20 L181.79 255.34 L182.73 255.48 L183.67 255.62 L184.61 255.76 L185.54 255.90 L186.48 256.04 L187.42 256.17 L188.36 256.30 L189.29 256.43 L190.23 256.56 L191.17 256.68 L192.11 256.81 L193.04 256.93 L193.98 257.05 L194.92 257.17 L195.86 257.29 L196.80 257.40 L197.73 257.52 L198.67 257.63 L199.61 257.74 L200.55 257.85 L201.48 257.95 L202.42 258.06 L203.36 258.16 L204.30 258.26 L205.23 258.36 L206.17 258.46 L207.11 258.56 L208.05 258.65 L208.98 258.75 L209.92 258.84 L210.86 258.93 L211.80 259.02 L212.74 259.11 L213.67 259.19 L214.61 259.28 L215.55 259.36 L216.49 259.44 L217.42 259.52 L218.36 259.60 L219.30 259.68 L220.24 259.76 L221.17 259.83 L222.11 259.91 L223.05 259.98 L223.99 260.05 L224.93 260.12 L225.86 260.19 L226.80 260.26 L227.74 260.32 L228.68 260.39 L229.61 260.45 L230.55 260.52 L231.49 260.58 L232.43 260.64 L233.36 260.70 L234.30 260.76 L235.24 260.81 L236.18 260.87 L237.11 260.92 L238.05 260.98 L238.99 261.03 L239.93 261.08 L240.87 261.13 L241.80 261.18 L242.74 261.23 L243.68 261.28 L244.62 261.33 L245.55 261.37 L246.49 261.42 L247.43 261.46 L248.37 261.51 L249.30 261.55 L250.24 261.59 L251.18 261.63 L252.12 261.67 L253.05 261.71 L253.99 261.75 L254.93 261.79 L255.87 261.83 L256.81 261.86 L257.74 261.90 L258.68 261.93 L259.62 261.97 L260.56 262.00 L261.49 262.03 L262.43 262.06 L263.37 262.09 L264.31 262.13 L265.24 262.16 L266.18 262.18 L267.12 262.21 L268.06 262.24 L268.99 262.27 L269.93 262.30 L270.87 262.32 L271.81 262.35 L272.75 262.37 L273.68 262.40 L274.62 262.42 L275.56 262.45 L276.50 262.47 L277.43 262.49 L278.37 262.51 L279.31 262.53 L280.25 262.56 L281.18 262.58 L282.12 262.60 L283.06 262.62 L284.00 262.64 L284.94 262.65 L285.87 262.67 L286.81 262.69 L287.75 262.71 L288.69 262.73 L289.62 262.74 L290.56 262.76 L291.50 262.78 L292.44 262.79 L293.37 262.81 L294.31 262.82 L295.25 262.84 L296.19 262.85 L297.12 262.87 L298.06 262.88 L299.00 262.89" stroke="#1010ff" stroke-width="1.55"/>
<path d="M74.90 236.11 L75.84 236.27 L76.78 236.43 L77.71 236.59 L78.65 236.75 L79.59 236.91 L80.53 237.07 L81.46 237.23 L82.40 237.40 L83.34 237.57 L84.28 237.73 L85.21 237.90 L86.15 238.07 L87.09 238.24 L88.03 238.42 L88.96 238.59 L89.90 238.76 L90.84 238.94 L91.78 239.11 L92.72 239.29 L93.65 239.47 L94.59 239.65 L95.53 239.83 L96.47 240.01 L97.40 240.19 L98.34 240.37 L99.28 240.56 L100.22 240.74 L101.15 240.93 L102.09 241.11 L103.03 241.30 L103.97 241.48 L104.91 241.67 L105.84 241.86 L106.78 242.05 L107.72 242.24 L108.66 242.43 L109.59 242.62 L110.53 242.81 L111.47 243.00 L112.41 243.19 L113.34 243.38 L114.28 243.57 L115.22 243.76 L116.16 243.95 L117.09 244.14 L118.03 244.33 L118.97 244.53 L119.91 244.72 L120.85 244.91 L121.78 245.10 L122.72 245.29 L123.66 245.48 L124.60 245.68 L125.53 245.87 L126.47 246.06 L127.41 246.25 L128.35 246.44 L129.28 246.63 L130.22 246.82 L131.16 247.01 L132.10 247.19 L133.03 247.38 L133.97 247.57 L134.91 247.76 L135.85 247.94 L136.79 248.13 L137.72 248.31 L138.66 248.50 L139.60 248.68 L140.54 248.87 L141.47 249.05 L142.41 249.23 L143.35 249.41 L144.29 249.59 L145.22 249.77 L146.16 249.95 L147.10 250.12 L148.04 250.30 L148.97 250.48 L149.91 250.65 L150.85 250.82 L151.79 251.00 L152.73 251.17 L153.66 251.34 L154.60 251.50 L155.54 251.67 L156.48 251.84 L157.41 252.00 L158.35 252.17 L159.29 252.33 L160.23 252.49 L161.16 252.65 L162.10 252.81 L163.04 252.97 L163.98 253.13 L164.92 253.28 L165.85 253.43 L166.79 253.59 L167.73 253.74 L168.67 253.89 L169.60 254.03 L170.54 254.18 L171.48 254.33 L172.42 254.47 L173.35 254.61 L174.29 254.75 L175.23 254.89 L176.17 255.03 L177.10 255.17 L178.04 255.30 L178.98 255.44 L179.92 255.57 L180.86 255.70 L181.79 255.83 L182.73 255.96 L183.67 256.08 L184.61 256.21 L185.54 256.33 L186.48 256.45 L187.42 256.57 L188.36 256.69 L189.29 256.81 L190.23 256.93 L191.17 257.04 L192.11 257.15 L193.04 257.27 L193.98 257.38 L194.92 257.48 L195.86 257.59 L196.80 257.70 L197.73 257.80 L198.67 257.90 L199.61 258.01 L200.55 258.11 L201.48 258.20 L202.42 258.30 L203.36 258.40 L204.30 258.49 L205.23 258.59 L206.17 258.68 L207.11 258.77 L208.05 258.86 L208.98 258.94 L209.92 259.03 L210.86 259.11 L211.80 259.20 L212.74 259.28 L213.67 259.36 L214.61 259.44 L215.55 259.52 L216.49 259.60 L217.42 259.67 L218.36 259.75 L219.30 259.82 L220.24 259.89 L221.17 259.96 L222.11 260.03 L223.05 260.10 L223.99 260.17 L224.93 260.24 L225.86 260.30 L226.80 260.37 L227.74 260.43 L228.68 260.49 L229.61 260.55 L230.55 260.61 L231.49 260.67 L232.43 260.73 L233.36 260.78 L234.30 260.84 L235.24 260.89 L236.18 260.95 L237.11 261.00 L238.05 261.05 L238.99 261.10 L239.93 261.15 L240.87 261.20 L241.80 261.25 L242.74 261.30 L243.68 261.34 L244.62 261.39 L245.55 261.43 L246.49 261.47 L247.43 261.52 L248.37 261.56 L249.30 261.60 L250.24 261.64 L251.18 261.68 L252.12 261.72 L253.05 261.76 L253.99 261.79 L254.93 261.83 L255.87 261.87 L256.81 261.90 L257.74 261.93 L258.68 261.97 L259.62 262.00 L260.56 262.03 L261.49 262.07 L262.43 262.10 L263.37 262.13 L264.31 262.16 L265.24 262.18 L266.18 262.21 L267.12 262.24 L268.06 262.27 L268.99 262.29 L269.93 262.32 L270.87 262.35 L271.81 262.37 L272.75 262.40 L273.68 262.42 L274.62 262.44 L275.56 262.47 L276.50 262.49 L277.43 262.51 L278.37 262.53 L279.31 262.55 L280.25 262.57 L281.18 262.59 L282.12 262.61 L283.06 262.63 L284.00 262.65 L284.94 262.67 L285.87 262.69 L286.81 262.71 L287.75 262.72 L288.69 262.74 L289.62 262.76 L290.56 262.77 L291.50 262.79 L292.44 262.80 L293.37 262.82 L294.31 262.83 L295.25 262.85 L296.19 262.86 L297.12 262.88 L298.06 262.89 L299.00 262.90" stroke="#007a00" stroke-width="3.7" stroke-dasharray="9.4 9.1"/>
</g>
<g clip-path="url(#c11)" fill="none">
<path d="M299.00 254.07 L299.94 254.36 L300.87 254.64 L301.81 254.91 L302.75 255.18 L303.68 255.43 L304.62 255.68 L305.56 255.92 L306.49 256.16 L307.43 256.38 L308.37 256.60 L309.31 256.81 L310.24 257.02 L311.18 257.22 L312.12 257.41 L313.05 257.60 L313.99 257.78 L314.93 257.95 L315.86 258.12 L316.80 258.29 L317.74 258.45 L318.67 258.60 L319.61 258.75 L320.55 258.90 L321.48 259.04 L322.42 259.17 L323.36 259.30 L324.29 259.43 L325.23 259.56 L326.17 259.68 L327.10 259.79 L328.04 259.91 L328.98 260.02 L329.92 260.12 L330.85 260.22 L331.79 260.32 L332.73 260.42 L333.66 260.51 L334.60 260.60 L335.54 260.69 L336.47 260.78 L337.41 260.86 L338.35 260.94 L339.28 261.01 L340.22 261.09 L341.16 261.16 L342.09 261.23 L343.03 261.30 L343.97 261.37 L344.90 261.43 L345.84 261.49 L346.78 261.55 L347.71 261.61 L348.65 261.67 L349.59 261.72 L350.53 261.77 L351.46 261.83 L352.40 261.88 L353.34 261.92 L354.27 261.97 L355.21 262.02 L356.15 262.06 L357.08 262.10 L358.02 262.14 L358.96 262.18 L359.89 262.22 L360.83 262.26 L361.77 262.29 L362.70 262.33 L363.64 262.36 L364.58 262.40 L365.51 262.43 L366.45 262.46 L367.39 262.49 L368.32 262.52 L369.26 262.55 L370.20 262.57 L371.14 262.60 L372.07 262.63 L373.01 262.65 L373.95 262.67 L374.88 262.70 L375.82 262.72 L376.76 262.74 L377.69 262.76 L378.63 262.78 L379.57 262.80 L380.50 262.82 L381.44 262.84 L382.38 262.86 L383.31 262.88 L384.25 262.89 L385.19 262.91 L386.12 262.93 L387.06 262.94 L388.00 262.96 L388.93 262.97 L389.87 262.99 L390.81 263.00 L391.75 263.01 L392.68 263.03 L393.62 263.04 L394.56 263.05 L395.49 263.06 L396.43 263.07 L397.37 263.08 L398.30 263.09 L399.24 263.10 L400.18 263.11 L401.11 263.12 L402.05 263.13 L402.99 263.14 L403.92 263.15 L404.86 263.15 L405.80 263.16 L406.73 263.16 L407.67 263.16 L408.61 263.16 L409.54 263.16 L410.48 263.16 L411.42 263.16 L412.36 263.16 L413.29 263.16 L414.23 263.16 L415.17 263.16 L416.10 263.15 L417.04 263.15 L417.98 263.15 L418.91 263.14 L419.85 263.14 L420.79 263.14 L421.72 263.13 L422.66 263.12 L423.60 263.10 L424.53 263.08 L425.47 263.06 L426.41 263.04 L427.34 263.01 L428.28 262.98 L429.22 262.96 L430.15 262.93 L431.09 262.90 L432.03 262.86 L432.97 262.83 L433.90 262.80 L434.84 262.77 L435.78 262.74 L436.71 262.71 L437.65 262.68 L438.59 262.66 L439.52 262.63 L440.46 262.61 L441.40 262.58 L442.33 262.56 L443.27 262.53 L444.21 262.51 L445.14 262.48 L446.08 262.45 L447.02 262.42 L447.95 262.40 L448.89 262.37 L449.83 262.34 L450.76 262.32 L451.70 262.29 L452.64 262.27 L453.58 262.25 L454.51 262.23 L455.45 262.21 L456.39 262.20 L457.32 262.18 L458.26 262.17 L459.20 262.16 L460.13 262.16 L461.07 262.15 L462.01 262.15 L462.94 262.14 L463.88 262.14 L464.82 262.14 L465.75 262.13 L466.69 262.13 L467.63 262.13 L468.56 262.12 L469.50 262.12 L470.44 262.12 L471.37 262.11 L472.31 262.11 L473.25 262.11 L474.19 262.10 L475.12 262.10 L476.06 262.10 L477.00 262.10 L477.93 262.09 L478.87 262.09 L479.81 262.09 L480.74 262.09 L481.68 262.09 L482.62 262.09 L483.55 262.09 L484.49 262.09 L485.43 262.09 L486.36 262.08 L487.30 262.08 L488.24 262.08 L489.17 262.08 L490.11 262.08 L491.05 262.09 L491.98 262.09 L492.92 262.09 L493.86 262.09 L494.80 262.09 L495.73 262.09 L496.67 262.10 L497.61 262.10 L498.54 262.10 L499.48 262.11 L500.42 262.11 L501.35 262.12 L502.29 262.12 L503.23 262.13 L504.16 262.13 L505.10 262.14 L506.04 262.14 L506.97 262.15 L507.91 262.15 L508.85 262.16 L509.78 262.17 L510.72 262.17 L511.66 262.18 L512.59 262.19 L513.53 262.20 L514.47 262.21 L515.41 262.21 L516.34 262.22 L517.28 262.23 L518.22 262.24 L519.15 262.25 L520.09 262.26 L521.03 262.27 L521.96 262.28 L522.90 262.29" stroke="#ff00ff" stroke-width="1.5"/>
<path d="M299.00 263.50 L299.94 263.50 L300.87 263.50 L301.81 263.50 L302.75 263.50 L303.68 263.50 L304.62 263.50 L305.56 263.50 L306.49 263.50 L307.43 263.50 L308.37 263.50 L309.31 263.50 L310.24 263.50 L311.18 263.50 L312.12 263.50 L313.05 263.50 L313.99 263.50 L314.93 263.50 L315.86 263.50 L316.80 263.50 L317.74 263.50 L318.67 263.50 L319.61 263.50 L320.55 263.50 L321.48 263.50 L322.42 263.50 L323.36 263.50 L324.29 263.50 L325.23 263.50 L326.17 263.50 L327.10 263.50 L328.04 263.50 L328.98 263.50 L329.92 263.50 L330.85 263.50 L331.79 263.50 L332.73 263.50 L333.66 263.50 L334.60 263.50 L335.54 263.50 L336.47 263.50 L337.41 263.50 L338.35 263.50 L339.28 263.50 L340.22 263.50 L341.16 263.50 L342.09 263.50 L343.03 263.50 L343.97 263.50 L344.90 263.50 L345.84 263.50 L346.78 263.50 L347.71 263.50 L348.65 263.50 L349.59 263.50 L350.53 263.50 L351.46 263.50 L352.40 263.50 L353.34 263.50 L354.27 263.50 L355.21 263.50 L356.15 263.50 L357.08 263.50 L358.02 263.50 L358.96 263.50 L359.89 263.50 L360.83 263.50 L361.77 263.50 L362.70 263.50 L363.64 263.50 L364.58 263.50 L365.51 263.50 L366.45 263.50 L367.39 263.50 L368.32 263.50 L369.26 263.50 L370.20 263.50 L371.14 263.50 L372.07 263.50 L373.01 263.50 L373.95 263.50 L374.88 263.50 L375.82 263.50 L376.76 263.50 L377.69 263.50 L378.63 263.50 L379.57 263.50 L380.50 263.50 L381.44 263.50 L382.38 263.50 L383.31 263.50 L384.25 263.50 L385.19 263.50 L386.12 263.49 L387.06 263.49 L388.00 263.49 L388.93 263.49 L389.87 263.49 L390.81 263.48 L391.75 263.48 L392.68 263.48 L393.62 263.47 L394.56 263.47 L395.49 263.47 L396.43 263.46 L397.37 263.46 L398.30 263.45 L399.24 263.45 L400.18 263.45 L401.11 263.44 L402.05 263.44 L402.99 263.43 L403.92 263.42 L404.86 263.42 L405.80 263.41 L406.73 263.41 L407.67 263.40 L408.61 263.39 L409.54 263.39 L410.48 263.38 L411.42 263.37 L412.36 263.37 L413.29 263.36 L414.23 263.35 L415.17 263.34 L416.10 263.33 L417.04 263.33 L417.98 263.32 L418.91 263.31 L419.85 263.30 L420.79 263.29 L421.72 263.28 L422.66 263.26 L423.60 263.24 L424.53 263.22 L425.47 263.19 L426.41 263.17 L427.34 263.14 L428.28 263.10 L429.22 263.07 L430.15 263.04 L431.09 263.01 L432.03 262.97 L432.97 262.94 L433.90 262.90 L434.84 262.87 L435.78 262.83 L436.71 262.80 L437.65 262.77 L438.59 262.74 L439.52 262.71 L440.46 262.69 L441.40 262.66 L442.33 262.63 L443.27 262.60 L444.21 262.58 L445.14 262.55 L446.08 262.52 L447.02 262.49 L447.95 262.46 L448.89 262.43 L449.83 262.40 L450.76 262.38 L451.70 262.35 L452.64 262.32 L453.58 262.30 L454.51 262.28 L455.45 262.26 L456.39 262.24 L457.32 262.23 L458.26 262.22 L459.20 262.21 L460.13 262.20 L461.07 262.19 L462.01 262.19 L462.94 262.18 L463.88 262.18 L464.82 262.17 L465.75 262.17 L466.69 262.16 L467.63 262.16 L468.56 262.15 L469.50 262.15 L470.44 262.14 L471.37 262.14 L472.31 262.14 L473.25 262.13 L474.19 262.13 L475.12 262.13 L476.06 262.12 L477.00 262.12 L477.93 262.12 L478.87 262.11 L479.81 262.11 L480.74 262.11 L481.68 262.11 L482.62 262.11 L483.55 262.11 L484.49 262.10 L485.43 262.10 L486.36 262.10 L487.30 262.10 L488.24 262.10 L489.17 262.10 L490.11 262.10 L491.05 262.10 L491.98 262.10 L492.92 262.10 L493.86 262.10 L494.80 262.10 L495.73 262.11 L496.67 262.11 L497.61 262.11 L498.54 262.11 L499.48 262.12 L500.42 262.12 L501.35 262.13 L502.29 262.13 L503.23 262.13 L504.16 262.14 L505.10 262.14 L506.04 262.15 L506.97 262.16 L507.91 262.16 L508.85 262.17 L509.78 262.18 L510.72 262.18 L511.66 262.19 L512.59 262.20 L513.53 262.20 L514.47 262.21 L515.41 262.22 L516.34 262.23 L517.28 262.24 L518.22 262.25 L519.15 262.26 L520.09 262.27 L521.03 262.27 L521.96 262.28 L522.90 262.29" stroke="#ff8000" stroke-width="3.8" stroke-dasharray="9 5 2 4.9"/>
<path d="M299.00 254.07 L299.94 254.36 L300.87 254.64 L301.81 254.91 L302.75 255.18 L303.68 255.43 L304.62 255.68 L305.56 255.92 L306.49 256.16 L307.43 256.38 L308.37 256.60 L309.31 256.81 L310.24 257.02 L311.18 257.22 L312.12 257.41 L313.05 257.60 L313.99 257.78 L314.93 257.95 L315.86 258.12 L316.80 258.29 L317.74 258.45 L318.67 258.60 L319.61 258.75 L320.55 258.90 L321.48 259.04 L322.42 259.17 L323.36 259.30 L324.29 259.43 L325.23 259.56 L326.17 259.68 L327.10 259.79 L328.04 259.91 L328.98 260.02 L329.92 260.12 L330.85 260.22 L331.79 260.32 L332.73 260.42 L333.66 260.51 L334.60 260.60 L335.54 260.69 L336.47 260.78 L337.41 260.86 L338.35 260.94 L339.28 261.01 L340.22 261.09 L341.16 261.16 L342.09 261.23 L343.03 261.30 L343.97 261.37 L344.90 261.43 L345.84 261.49 L346.78 261.55 L347.71 261.61 L348.65 261.67 L349.59 261.72 L350.53 261.77 L351.46 261.83 L352.40 261.88 L353.34 261.92 L354.27 261.97 L355.21 262.02 L356.15 262.06 L357.08 262.10 L358.02 262.14 L358.96 262.18 L359.89 262.22 L360.83 262.26 L361.77 262.29 L362.70 262.33 L363.64 262.36 L364.58 262.40 L365.51 262.43 L366.45 262.46 L367.39 262.49 L368.32 262.52 L369.26 262.55 L370.20 262.57 L371.14 262.60 L372.07 262.63 L373.01 262.65 L373.95 262.67 L374.88 262.70 L375.82 262.72 L376.76 262.74 L377.69 262.76 L378.63 262.78 L379.57 262.80 L380.50 262.82 L381.44 262.84 L382.38 262.86 L383.31 262.88 L384.25 262.89 L385.19 262.91 L386.12 262.93 L387.06 262.94 L388.00 262.96 L388.93 262.97 L389.87 262.99 L390.81 263.00 L391.75 263.01 L392.68 263.03 L393.62 263.04 L394.56 263.05 L395.49 263.06 L396.43 263.07 L397.37 263.08 L398.30 263.09 L399.24 263.10 L400.18 263.11 L401.11 263.12 L402.05 263.13 L402.99 263.14 L403.92 263.15 L404.86 263.16 L405.80 263.17 L406.73 263.18 L407.67 263.18 L408.61 263.19 L409.54 263.20 L410.48 263.21 L411.42 263.21 L412.36 263.22 L413.29 263.23 L414.23 263.23 L415.17 263.24 L416.10 263.24 L417.04 263.25 L417.98 263.25 L418.91 263.26 L419.85 263.27 L420.79 263.27 L421.72 263.27 L422.66 263.28 L423.60 263.28 L424.53 263.29 L425.47 263.29 L426.41 263.30 L427.34 263.30 L428.28 263.30 L429.22 263.31 L430.15 263.31 L431.09 263.32 L432.03 263.32 L432.97 263.32 L433.90 263.33 L434.84 263.33 L435.78 263.33 L436.71 263.33 L437.65 263.34 L438.59 263.34 L439.52 263.34 L440.46 263.35 L441.40 263.35 L442.33 263.35 L443.27 263.35 L444.21 263.35 L445.14 263.36 L446.08 263.36 L447.02 263.36 L447.95 263.36 L448.89 263.36 L449.83 263.37 L450.76 263.37 L451.70 263.37 L452.64 263.37 L453.58 263.37 L454.51 263.38 L455.45 263.38 L456.39 263.38 L457.32 263.38 L458.26 263.38 L459.20 263.38 L460.13 263.38 L461.07 263.39 L462.01 263.39 L462.94 263.39 L463.88 263.39 L464.82 263.39 L465.75 263.39 L466.69 263.39 L467.63 263.39 L468.56 263.39 L469.50 263.39 L470.44 263.40 L471.37 263.40 L472.31 263.40 L473.25 263.40 L474.19 263.40 L475.12 263.40 L476.06 263.40 L477.00 263.40 L477.93 263.40 L478.87 263.40 L479.81 263.40 L480.74 263.40 L481.68 263.41 L482.62 263.41 L483.55 263.41 L484.49 263.41 L485.43 263.41 L486.36 263.41 L487.30 263.41 L488.24 263.41 L489.17 263.41 L490.11 263.41 L491.05 263.41 L491.98 263.41 L492.92 263.41 L493.86 263.41 L494.80 263.41 L495.73 263.41 L496.67 263.41 L497.61 263.41 L498.54 263.41 L499.48 263.41 L500.42 263.41 L501.35 263.41 L502.29 263.42 L503.23 263.42 L504.16 263.42 L505.10 263.42 L506.04 263.42 L506.97 263.42 L507.91 263.42 L508.85 263.42 L509.78 263.42 L510.72 263.42 L511.66 263.42 L512.59 263.42 L513.53 263.42 L514.47 263.42 L515.41 263.42 L516.34 263.42 L517.28 263.42 L518.22 263.42 L519.15 263.42 L520.09 263.42 L521.03 263.42 L521.96 263.42 L522.90 263.42" stroke="#ff0000" stroke-width="2.7" stroke-dasharray="2 4.4"/>
</g>
<g clip-path="url(#c02)" fill="none">
<path d="M74.90 386.81 L75.84 387.21 L76.78 387.60 L77.71 387.98 L78.65 388.34 L79.59 388.70 L80.53 389.04 L81.46 389.37 L82.40 389.69 L83.34 390.00 L84.28 390.30 L85.21 390.60 L86.15 390.88 L87.09 391.16 L88.03 391.42 L88.96 391.68 L89.90 391.93 L90.84 392.17 L91.78 392.41 L92.72 392.63 L93.65 392.85 L94.59 393.07 L95.53 393.27 L96.47 393.47 L97.40 393.67 L98.34 393.86 L99.28 394.04 L100.22 394.21 L101.15 394.39 L102.09 394.55 L103.03 394.71 L103.97 394.87 L104.91 395.02 L105.84 395.16 L106.78 395.31 L107.72 395.44 L108.66 395.58 L109.59 395.70 L110.53 395.83 L111.47 395.95 L112.41 396.07 L113.34 396.18 L114.28 396.29 L115.22 396.40 L116.16 396.50 L117.09 396.60 L118.03 396.70 L118.97 396.79 L119.91 396.88 L120.85 396.97 L121.78 397.06 L122.72 397.14 L123.66 397.22 L124.60 397.30 L125.53 397.37 L126.47 397.45 L127.41 397.52 L128.35 397.59 L129.28 397.65 L130.22 397.72 L131.16 397.78 L132.10 397.84 L133.03 397.90 L133.97 397.95 L134.91 398.01 L135.85 398.06 L136.79 398.11 L137.72 398.16 L138.66 398.21 L139.60 398.26 L140.54 398.31 L141.47 398.35 L142.41 398.39 L143.35 398.43 L144.29 398.47 L145.22 398.51 L146.16 398.55 L147.10 398.59 L148.04 398.62 L148.97 398.66 L149.91 398.69 L150.85 398.72 L151.79 398.75 L152.73 398.78 L153.66 398.81 L154.60 398.84 L155.54 398.87 L156.48 398.89 L157.41 398.92 L158.35 398.95 L159.29 398.97 L160.23 398.99 L161.16 399.02 L162.10 399.04 L163.04 399.06 L163.98 399.08 L164.92 399.10 L165.85 399.12 L166.79 399.14 L167.73 399.16 L168.67 399.17 L169.60 399.19 L170.54 399.21 L171.48 399.22 L172.42 399.24 L173.35 399.25 L174.29 399.27 L175.23 399.28 L176.17 399.30 L177.10 399.31 L178.04 399.32 L178.98 399.34 L179.92 399.35 L180.86 399.36 L181.79 399.37 L182.73 399.38 L183.67 399.39 L184.61 399.40 L185.54 399.41 L186.48 399.42 L187.42 399.43 L188.36 399.44 L189.29 399.45 L190.23 399.46 L191.17 399.47 L192.11 399.47 L193.04 399.48 L193.98 399.49 L194.92 399.50 L195.86 399.50 L196.80 399.51 L197.73 399.52 L198.67 399.52 L199.61 399.53 L200.55 399.54 L201.48 399.54 L202.42 399.55 L203.36 399.55 L204.30 399.56 L205.23 399.56 L206.17 399.57 L207.11 399.57 L208.05 399.58 L208.98 399.58 L209.92 399.59 L210.86 399.59 L211.80 399.60 L212.74 399.60 L213.67 399.60 L214.61 399.61 L215.55 399.61 L216.49 399.61 L217.42 399.62 L218.36 399.62 L219.30 399.62 L220.24 399.63 L221.17 399.63 L222.11 399.63 L223.05 399.64 L223.99 399.64 L224.93 399.64 L225.86 399.64 L226.80 399.65 L227.74 399.65 L228.68 399.65 L229.61 399.65 L230.55 399.66 L231.49 399.66 L232.43 399.66 L233.36 399.66 L234.30 399.66 L235.24 399.67 L236.18 399.67 L237.11 399.67 L238.05 399.67 L238.99 399.67 L239.93 399.67 L240.87 399.68 L241.80 399.68 L242.74 399.68 L243.68 399.68 L244.62 399.68 L245.55 399.68 L246.49 399.68 L247.43 399.69 L248.37 399.69 L249.30 399.69 L250.24 399.69 L251.18 399.69 L252.12 399.69 L253.05 399.69 L253.99 399.69 L254.93 399.69 L255.87 399.70 L256.81 399.70 L257.74 399.70 L258.68 399.70 L259.62 399.70 L260.56 399.70 L261.49 399.70 L262.43 399.70 L263.37 399.70 L264.31 399.70 L265.24 399.70 L266.18 399.70 L267.12 399.70 L268.06 399.71 L268.99 399.71 L269.93 399.71 L270.87 399.71 L271.81 399.71 L272.75 399.71 L273.68 399.71 L274.62 399.71 L275.56 399.71 L276.50 399.71 L277.43 399.71 L278.37 399.71 L279.31 399.71 L280.25 399.71 L281.18 399.71 L282.12 399.71 L283.06 399.71 L284.00 399.71 L284.94 399.71 L285.87 399.71 L286.81 399.71 L287.75 399.71 L288.69 399.72 L289.62 399.72 L290.56 399.72 L291.50 399.72 L292.44 399.72 L293.37 399.72 L294.31 399.72 L295.25 399.72 L296.19 399.72 L297.12 399.72 L298.06 399.72 L299.00 399.72" stroke="#ff0000" stroke-width="3.3" stroke-dasharray="2 4.4"/>
<path d="M74.90 344.05 L75.84 344.58 L76.78 345.11 L77.71 345.63 L78.65 346.14 L79.59 346.64 L80.53 347.12 L81.46 347.61 L82.40 348.08 L83.34 348.54 L84.28 349.00 L85.21 349.45 L86.15 349.89 L87.09 350.33 L88.03 350.76 L88.96 351.18 L89.90 351.59 L90.84 352.01 L91.78 352.41 L92.72 352.81 L93.65 353.21 L94.59 353.60 L95.53 353.98 L96.47 354.36 L97.40 354.74 L98.34 355.12 L99.28 355.48 L100.22 355.85 L101.15 356.21 L102.09 356.57 L103.03 356.93 L103.97 357.28 L104.91 357.63 L105.84 357.97 L106.78 358.32 L107.72 358.66 L108.66 359.00 L109.59 359.34 L110.53 359.67 L111.47 360.00 L112.41 360.33 L113.34 360.66 L114.28 360.99 L115.22 361.31 L116.16 361.64 L117.09 361.96 L118.03 362.28 L118.97 362.60 L119.91 362.91 L120.85 363.23 L121.78 363.55 L122.72 363.86 L123.66 364.17 L124.60 364.48 L125.53 364.79 L126.47 365.10 L127.41 365.41 L128.35 365.72 L129.28 366.02 L130.22 366.33 L131.16 366.63 L132.10 366.94 L133.03 367.24 L133.97 367.54 L134.91 367.84 L135.85 368.15 L136.79 368.45 L137.72 368.74 L138.66 369.04 L139.60 369.34 L140.54 369.64 L141.47 369.93 L142.41 370.23 L143.35 370.52 L144.29 370.82 L145.22 371.11 L146.16 371.40 L147.10 371.69 L148.04 371.98 L148.97 372.27 L149.91 372.56 L150.85 372.85 L151.79 373.14 L152.73 373.42 L153.66 373.71 L154.60 373.99 L155.54 374.28 L156.48 374.56 L157.41 374.84 L158.35 375.12 L159.29 375.40 L160.23 375.68 L161.16 375.96 L162.10 376.23 L163.04 376.51 L163.98 376.78 L164.92 377.05 L165.85 377.33 L166.79 377.60 L167.73 377.86 L168.67 378.13 L169.60 378.40 L170.54 378.66 L171.48 378.93 L172.42 379.19 L173.35 379.45 L174.29 379.71 L175.23 379.97 L176.17 380.23 L177.10 380.48 L178.04 380.73 L178.98 380.99 L179.92 381.24 L180.86 381.49 L181.79 381.73 L182.73 381.98 L183.67 382.22 L184.61 382.47 L185.54 382.71 L186.48 382.94 L187.42 383.18 L188.36 383.42 L189.29 383.65 L190.23 383.88 L191.17 384.11 L192.11 384.34 L193.04 384.56 L193.98 384.79 L194.92 385.01 L195.86 385.23 L196.80 385.45 L197.73 385.67 L198.67 385.88 L199.61 386.09 L200.55 386.30 L201.48 386.51 L202.42 386.72 L203.36 386.92 L204.30 387.12 L205.23 387.32 L206.17 387.52 L207.11 387.72 L208.05 387.91 L208.98 388.10 L209.92 388.29 L210.86 388.48 L211.80 388.67 L212.74 388.85 L213.67 389.03 L214.61 389.21 L215.55 389.39 L216.49 389.56 L217.42 389.74 L218.36 389.91 L219.30 390.08 L220.24 390.24 L221.17 390.41 L222.11 390.57 L223.05 390.73 L223.99 390.89 L224.93 391.05 L225.86 391.20 L226.80 391.35 L227.74 391.50 L228.68 391.65 L229.61 391.80 L230.55 391.94 L231.49 392.08 L232.43 392.22 L233.36 392.36 L234.30 392.50 L235.24 392.63 L236.18 392.77 L237.11 392.90 L238.05 393.03 L238.99 393.15 L239.93 393.28 L240.87 393.40 L241.80 393.52 L242.74 393.64 L243.68 393.76 L244.62 393.87 L245.55 393.99 L246.49 394.10 L247.43 394.21 L248.37 394.32 L249.30 394.42 L250.24 394.53 L251.18 394.63 L252.12 394.73 L253.05 394.83 L253.99 394.93 L254.93 395.03 L255.87 395.12 L256.81 395.22 L257.74 395.31 L258.68 395.40 L259.62 395.49 L260.56 395.57 L261.49 395.66 L262.43 395.74 L263.37 395.83 L264.31 395.91 L265.24 395.99 L266.18 396.07 L267.12 396.14 L268.06 396.22 L268.99 396.29 L269.93 396.36 L270.87 396.44 L271.81 396.51 L272.75 396.58 L273.68 396.64 L274.62 396.71 L275.56 396.77 L276.50 396.84 L277.43 396.90 L278.37 396.96 L279.31 397.02 L280.25 397.08 L281.18 397.14 L282.12 397.20 L283.06 397.25 L284.00 397.31 L284.94 397.36 L285.87 397.41 L286.81 397.46 L287.75 397.51 L288.69 397.56 L289.62 397.61 L290.56 397.66 L291.50 397.71 L292.44 397.75 L293.37 397.80 L294.31 397.84 L295.25 397.88 L296.19 397.92 L297.12 397.96 L298.06 398.00 L299.00 398.04" stroke="#1010ff" stroke-width="1.55"/>
<path d="M74.90 356.96 L75.84 357.10 L76.78 357.24 L77.71 357.38 L78.65 357.52 L79.59 357.67 L80.53 357.81 L81.46 357.96 L82.40 358.11 L83.34 358.26 L84.28 358.42 L85.21 358.58 L86.15 358.74 L87.09 358.90 L88.03 359.06 L88.96 359.22 L89.90 359.39 L90.84 359.56 L91.78 359.73 L92.72 359.90 L93.65 360.08 L94.59 360.26 L95.53 360.44 L96.47 360.62 L97.40 360.80 L98.34 360.98 L99.28 361.17 L100.22 361.36 L101.15 361.55 L102.09 361.74 L103.03 361.94 L103.97 362.14 L104.91 362.34 L105.84 362.54 L106.78 362.74 L107.72 362.94 L108.66 363.15 L109.59 363.36 L110.53 363.57 L111.47 363.78 L112.41 363.99 L113.34 364.21 L114.28 364.42 L115.22 364.64 L116.16 364.86 L117.09 365.08 L118.03 365.31 L118.97 365.53 L119.91 365.76 L120.85 365.98 L121.78 366.21 L122.72 366.44 L123.66 366.68 L124.60 366.91 L125.53 367.15 L126.47 367.38 L127.41 367.62 L128.35 367.86 L129.28 368.10 L130.22 368.34 L131.16 368.58 L132.10 368.82 L133.03 369.07 L133.97 369.31 L134.91 369.56 L135.85 369.81 L136.79 370.06 L137.72 370.30 L138.66 370.55 L139.60 370.81 L140.54 371.06 L141.47 371.31 L142.41 371.56 L143.35 371.81 L144.29 372.07 L145.22 372.32 L146.16 372.58 L147.10 372.83 L148.04 373.09 L148.97 373.34 L149.91 373.60 L150.85 373.85 L151.79 374.11 L152.73 374.36 L153.66 374.62 L154.60 374.88 L155.54 375.13 L156.48 375.39 L157.41 375.64 L158.35 375.90 L159.29 376.15 L160.23 376.41 L161.16 376.66 L162.10 376.92 L163.04 377.17 L163.98 377.43 L164.92 377.68 L165.85 377.93 L166.79 378.18 L167.73 378.43 L168.67 378.68 L169.60 378.93 L170.54 379.18 L171.48 379.43 L172.42 379.68 L173.35 379.92 L174.29 380.17 L175.23 380.41 L176.17 380.65 L177.10 380.90 L178.04 381.14 L178.98 381.38 L179.92 381.62 L180.86 381.85 L181.79 382.09 L182.73 382.32 L183.67 382.56 L184.61 382.79 L185.54 383.02 L186.48 383.25 L187.42 383.47 L188.36 383.70 L189.29 383.93 L190.23 384.15 L191.17 384.37 L192.11 384.59 L193.04 384.81 L193.98 385.02 L194.92 385.24 L195.86 385.45 L196.80 385.66 L197.73 385.87 L198.67 386.08 L199.61 386.29 L200.55 386.49 L201.48 386.69 L202.42 386.89 L203.36 387.09 L204.30 387.29 L205.23 387.48 L206.17 387.68 L207.11 387.87 L208.05 388.06 L208.98 388.24 L209.92 388.43 L210.86 388.61 L211.80 388.80 L212.74 388.97 L213.67 389.15 L214.61 389.33 L215.55 389.50 L216.49 389.67 L217.42 389.84 L218.36 390.01 L219.30 390.18 L220.24 390.34 L221.17 390.50 L222.11 390.66 L223.05 390.82 L223.99 390.98 L224.93 391.13 L225.86 391.28 L226.80 391.43 L227.74 391.58 L228.68 391.72 L229.61 391.87 L230.55 392.01 L231.49 392.15 L232.43 392.29 L233.36 392.43 L234.30 392.56 L235.24 392.69 L236.18 392.82 L237.11 392.95 L238.05 393.08 L238.99 393.20 L239.93 393.33 L240.87 393.45 L241.80 393.57 L242.74 393.69 L243.68 393.80 L244.62 393.92 L245.55 394.03 L246.49 394.14 L247.43 394.25 L248.37 394.36 L249.30 394.46 L250.24 394.56 L251.18 394.67 L252.12 394.77 L253.05 394.87 L253.99 394.96 L254.93 395.06 L255.87 395.15 L256.81 395.25 L257.74 395.34 L258.68 395.43 L259.62 395.51 L260.56 395.60 L261.49 395.68 L262.43 395.77 L263.37 395.85 L264.31 395.93 L265.24 396.01 L266.18 396.09 L267.12 396.16 L268.06 396.24 L268.99 396.31 L269.93 396.38 L270.87 396.45 L271.81 396.52 L272.75 396.59 L273.68 396.66 L274.62 396.72 L275.56 396.79 L276.50 396.85 L277.43 396.91 L278.37 396.98 L279.31 397.04 L280.25 397.09 L281.18 397.15 L282.12 397.21 L283.06 397.26 L284.00 397.32 L284.94 397.37 L285.87 397.42 L286.81 397.47 L287.75 397.52 L288.69 397.57 L289.62 397.62 L290.56 397.67 L291.50 397.71 L292.44 397.76 L293.37 397.80 L294.31 397.85 L295.25 397.89 L296.19 397.93 L297.12 397.97 L298.06 398.01 L299.00 398.05" stroke="#007a00" stroke-width="3.7" stroke-dasharray="9.4 9.1"/>
</g>
<g clip-path="url(#c12)" fill="none">
<path d="M299.00 386.08 L299.94 386.50 L300.87 386.90 L301.81 387.30 L302.75 387.68 L303.68 388.05 L304.62 388.41 L305.56 388.76 L306.49 389.09 L307.43 389.42 L308.37 389.74 L309.31 390.04 L310.24 390.34 L311.18 390.63 L312.12 390.90 L313.05 391.17 L313.99 391.44 L314.93 391.69 L315.86 391.94 L316.80 392.17 L317.74 392.40 L318.67 392.63 L319.61 392.84 L320.55 393.05 L321.48 393.26 L322.42 393.45 L323.36 393.64 L324.29 393.83 L325.23 394.01 L326.17 394.18 L327.10 394.35 L328.04 394.51 L328.98 394.67 L329.92 394.82 L330.85 394.97 L331.79 395.12 L332.73 395.26 L333.66 395.39 L334.60 395.52 L335.54 395.65 L336.47 395.77 L337.41 395.89 L338.35 396.00 L339.28 396.12 L340.22 396.22 L341.16 396.33 L342.09 396.43 L343.03 396.53 L343.97 396.62 L344.90 396.72 L345.84 396.81 L346.78 396.89 L347.71 396.98 L348.65 397.06 L349.59 397.14 L350.53 397.21 L351.46 397.29 L352.40 397.36 L353.34 397.43 L354.27 397.50 L355.21 397.56 L356.15 397.63 L357.08 397.69 L358.02 397.75 L358.96 397.80 L359.89 397.86 L360.83 397.91 L361.77 397.97 L362.70 398.02 L363.64 398.07 L364.58 398.11 L365.51 398.16 L366.45 398.20 L367.39 398.25 L368.32 398.29 L369.26 398.33 L370.20 398.37 L371.14 398.41 L372.07 398.44 L373.01 398.47 L373.95 398.50 L374.88 398.52 L375.82 398.55 L376.76 398.57 L377.69 398.58 L378.63 398.60 L379.57 398.61 L380.50 398.62 L381.44 398.63 L382.38 398.64 L383.31 398.65 L384.25 398.65 L385.19 398.65 L386.12 398.65 L387.06 398.63 L388.00 398.61 L388.93 398.58 L389.87 398.54 L390.81 398.50 L391.75 398.45 L392.68 398.39 L393.62 398.34 L394.56 398.28 L395.49 398.22 L396.43 398.16 L397.37 398.10 L398.30 398.05 L399.24 397.99 L400.18 397.94 L401.11 397.89 L402.05 397.84 L402.99 397.78 L403.92 397.73 L404.86 397.67 L405.80 397.61 L406.73 397.56 L407.67 397.50 L408.61 397.44 L409.54 397.38 L410.48 397.32 L411.42 397.26 L412.36 397.21 L413.29 397.15 L414.23 397.09 L415.17 397.04 L416.10 396.98 L417.04 396.93 L417.98 396.88 L418.91 396.83 L419.85 396.78 L420.79 396.73 L421.72 396.68 L422.66 396.64 L423.60 396.59 L424.53 396.55 L425.47 396.50 L426.41 396.46 L427.34 396.41 L428.28 396.37 L429.22 396.33 L430.15 396.29 L431.09 396.24 L432.03 396.20 L432.97 396.16 L433.90 396.12 L434.84 396.09 L435.78 396.05 L436.71 396.01 L437.65 395.97 L438.59 395.94 L439.52 395.90 L440.46 395.87 L441.40 395.83 L442.33 395.79 L443.27 395.75 L444.21 395.71 L445.14 395.67 L446.08 395.63 L447.02 395.59 L447.95 395.55 L448.89 395.51 L449.83 395.47 L450.76 395.43 L451.70 395.40 L452.64 395.37 L453.58 395.34 L454.51 395.31 L455.45 395.29 L456.39 395.27 L457.32 395.26 L458.26 395.25 L459.20 395.24 L460.13 395.24 L461.07 395.24 L462.01 395.24 L462.94 395.25 L463.88 395.25 L464.82 395.25 L465.75 395.25 L466.69 395.25 L467.63 395.25 L468.56 395.26 L469.50 395.26 L470.44 395.26 L471.37 395.26 L472.31 395.26 L473.25 395.26 L474.19 395.26 L475.12 395.26 L476.06 395.27 L477.00 395.27 L477.93 395.27 L478.87 395.27 L479.81 395.27 L480.74 395.27 L481.68 395.28 L482.62 395.30 L483.55 395.33 L484.49 395.37 L485.43 395.41 L486.36 395.45 L487.30 395.50 L488.24 395.56 L489.17 395.61 L490.11 395.68 L491.05 395.74 L491.98 395.81 L492.92 395.88 L493.86 395.95 L494.80 396.01 L495.73 396.08 L496.67 396.15 L497.61 396.22 L498.54 396.29 L499.48 396.35 L500.42 396.41 L501.35 396.47 L502.29 396.54 L503.23 396.60 L504.16 396.66 L505.10 396.73 L506.04 396.79 L506.97 396.86 L507.91 396.93 L508.85 397.00 L509.78 397.07 L510.72 397.14 L511.66 397.21 L512.59 397.29 L513.53 397.36 L514.47 397.44 L515.41 397.51 L516.34 397.59 L517.28 397.67 L518.22 397.74 L519.15 397.82 L520.09 397.90 L521.03 397.98 L521.96 398.07 L522.90 398.15" stroke="#ff00ff" stroke-width="1.5"/>
<path d="M299.00 399.60 L299.94 399.60 L300.87 399.60 L301.81 399.60 L302.75 399.60 L303.68 399.60 L304.62 399.60 L305.56 399.60 L306.49 399.60 L307.43 399.60 L308.37 399.60 L309.31 399.60 L310.24 399.60 L311.18 399.60 L312.12 399.60 L313.05 399.60 L313.99 399.60 L314.93 399.60 L315.86 399.60 L316.80 399.60 L317.74 399.60 L318.67 399.60 L319.61 399.60 L320.55 399.60 L321.48 399.60 L322.42 399.60 L323.36 399.60 L324.29 399.60 L325.23 399.60 L326.17 399.60 L327.10 399.60 L328.04 399.60 L328.98 399.60 L329.92 399.60 L330.85 399.60 L331.79 399.60 L332.73 399.60 L333.66 399.60 L334.60 399.60 L335.54 399.60 L336.47 399.60 L337.41 399.60 L338.35 399.60 L339.28 399.60 L340.22 399.60 L341.16 399.60 L342.09 399.60 L343.03 399.60 L343.97 399.60 L344.90 399.60 L345.84 399.60 L346.78 399.60 L347.71 399.60 L348.65 399.60 L349.59 399.60 L350.53 399.60 L351.46 399.60 L352.40 399.60 L353.34 399.60 L354.27 399.60 L355.21 399.60 L356.15 399.60 L357.08 399.60 L358.02 399.60 L358.96 399.60 L359.89 399.60 L360.83 399.60 L361.77 399.60 L362.70 399.60 L363.64 399.60 L364.58 399.60 L365.51 399.60 L366.45 399.60 L367.39 399.60 L368.32 399.60 L369.26 399.60 L370.20 399.60 L371.14 399.60 L372.07 399.60 L373.01 399.59 L373.95 399.58 L374.88 399.57 L375.82 399.56 L376.76 399.55 L377.69 399.54 L378.63 399.52 L379.57 399.51 L380.50 399.49 L381.44 399.47 L382.38 399.46 L383.31 399.44 L384.25 399.42 L385.19 399.40 L386.12 399.37 L387.06 399.33 L388.00 399.29 L388.93 399.23 L389.87 399.18 L390.81 399.11 L391.75 399.04 L392.68 398.97 L393.62 398.90 L394.56 398.82 L395.49 398.75 L396.43 398.67 L397.37 398.60 L398.30 398.52 L399.24 398.45 L400.18 398.39 L401.11 398.32 L402.05 398.26 L402.99 398.19 L403.92 398.12 L404.86 398.05 L405.80 397.99 L406.73 397.92 L407.67 397.85 L408.61 397.78 L409.54 397.71 L410.48 397.64 L411.42 397.57 L412.36 397.50 L413.29 397.44 L414.23 397.37 L415.17 397.31 L416.10 397.24 L417.04 397.18 L417.98 397.12 L418.91 397.06 L419.85 397.01 L420.79 396.95 L421.72 396.90 L422.66 396.85 L423.60 396.80 L424.53 396.74 L425.47 396.69 L426.41 396.64 L427.34 396.59 L428.28 396.54 L429.22 396.50 L430.15 396.45 L431.09 396.40 L432.03 396.36 L432.97 396.31 L433.90 396.27 L434.84 396.22 L435.78 396.18 L436.71 396.14 L437.65 396.10 L438.59 396.06 L439.52 396.02 L440.46 395.98 L441.40 395.94 L442.33 395.90 L443.27 395.86 L444.21 395.81 L445.14 395.77 L446.08 395.72 L447.02 395.68 L447.95 395.64 L448.89 395.60 L449.83 395.55 L450.76 395.52 L451.70 395.48 L452.64 395.44 L453.58 395.41 L454.51 395.38 L455.45 395.36 L456.39 395.34 L457.32 395.32 L458.26 395.31 L459.20 395.30 L460.13 395.30 L461.07 395.30 L462.01 395.30 L462.94 395.30 L463.88 395.30 L464.82 395.30 L465.75 395.30 L466.69 395.30 L467.63 395.30 L468.56 395.30 L469.50 395.30 L470.44 395.30 L471.37 395.30 L472.31 395.30 L473.25 395.30 L474.19 395.30 L475.12 395.30 L476.06 395.30 L477.00 395.30 L477.93 395.30 L478.87 395.30 L479.81 395.30 L480.74 395.30 L481.68 395.31 L482.62 395.33 L483.55 395.36 L484.49 395.39 L485.43 395.43 L486.36 395.48 L487.30 395.52 L488.24 395.58 L489.17 395.64 L490.11 395.70 L491.05 395.76 L491.98 395.83 L492.92 395.90 L493.86 395.96 L494.80 396.03 L495.73 396.10 L496.67 396.17 L497.61 396.24 L498.54 396.30 L499.48 396.37 L500.42 396.43 L501.35 396.49 L502.29 396.55 L503.23 396.61 L504.16 396.68 L505.10 396.74 L506.04 396.81 L506.97 396.87 L507.91 396.94 L508.85 397.01 L509.78 397.08 L510.72 397.15 L511.66 397.22 L512.59 397.30 L513.53 397.37 L514.47 397.45 L515.41 397.52 L516.34 397.60 L517.28 397.67 L518.22 397.75 L519.15 397.83 L520.09 397.91 L521.03 397.99 L521.96 398.07 L522.90 398.16" stroke="#ff8000" stroke-width="3.8" stroke-dasharray="9 5 2 4.9"/>
<path d="M299.00 386.20 L299.94 386.62 L300.87 387.03 L301.81 387.42 L302.75 387.81 L303.68 388.18 L304.62 388.53 L305.56 388.88 L306.49 389.22 L307.43 389.54 L308.37 389.86 L309.31 390.17 L310.24 390.46 L311.18 390.75 L312.12 391.03 L313.05 391.30 L313.99 391.56 L314.93 391.81 L315.86 392.06 L316.80 392.30 L317.74 392.53 L318.67 392.75 L319.61 392.97 L320.55 393.18 L321.48 393.38 L322.42 393.58 L323.36 393.77 L324.29 393.95 L325.23 394.13 L326.17 394.31 L327.10 394.48 L328.04 394.64 L328.98 394.80 L329.92 394.95 L330.85 395.10 L331.79 395.24 L332.73 395.38 L333.66 395.52 L334.60 395.65 L335.54 395.77 L336.47 395.90 L337.41 396.01 L338.35 396.13 L339.28 396.24 L340.22 396.35 L341.16 396.45 L342.09 396.56 L343.03 396.65 L343.97 396.75 L344.90 396.84 L345.84 396.93 L346.78 397.02 L347.71 397.10 L348.65 397.18 L349.59 397.26 L350.53 397.34 L351.46 397.41 L352.40 397.48 L353.34 397.55 L354.27 397.62 L355.21 397.69 L356.15 397.75 L357.08 397.81 L358.02 397.87 L358.96 397.93 L359.89 397.98 L360.83 398.04 L361.77 398.09 L362.70 398.14 L363.64 398.19 L364.58 398.24 L365.51 398.28 L366.45 398.33 L367.39 398.37 L368.32 398.41 L369.26 398.46 L370.20 398.49 L371.14 398.53 L372.07 398.57 L373.01 398.61 L373.95 398.64 L374.88 398.67 L375.82 398.71 L376.76 398.74 L377.69 398.77 L378.63 398.80 L379.57 398.83 L380.50 398.86 L381.44 398.88 L382.38 398.91 L383.31 398.93 L384.25 398.96 L385.19 398.98 L386.12 399.01 L387.06 399.03 L388.00 399.05 L388.93 399.07 L389.87 399.09 L390.81 399.11 L391.75 399.13 L392.68 399.15 L393.62 399.17 L394.56 399.18 L395.49 399.20 L396.43 399.22 L397.37 399.23 L398.30 399.25 L399.24 399.26 L400.18 399.28 L401.11 399.29 L402.05 399.30 L402.99 399.32 L403.92 399.33 L404.86 399.34 L405.80 399.35 L406.73 399.37 L407.67 399.38 L408.61 399.39 L409.54 399.40 L410.48 399.41 L411.42 399.42 L412.36 399.43 L413.29 399.44 L414.23 399.45 L415.17 399.45 L416.10 399.46 L417.04 399.47 L417.98 399.48 L418.91 399.49 L419.85 399.49 L420.79 399.50 L421.72 399.51 L422.66 399.51 L423.60 399.52 L424.53 399.53 L425.47 399.53 L426.41 399.54 L427.34 399.55 L428.28 399.55 L429.22 399.56 L430.15 399.56 L431.09 399.57 L432.03 399.57 L432.97 399.58 L433.90 399.58 L434.84 399.59 L435.78 399.59 L436.71 399.59 L437.65 399.60 L438.59 399.60 L439.52 399.61 L440.46 399.61 L441.40 399.61 L442.33 399.62 L443.27 399.62 L444.21 399.62 L445.14 399.63 L446.08 399.63 L447.02 399.63 L447.95 399.64 L448.89 399.64 L449.83 399.64 L450.76 399.64 L451.70 399.65 L452.64 399.65 L453.58 399.65 L454.51 399.65 L455.45 399.66 L456.39 399.66 L457.32 399.66 L458.26 399.66 L459.20 399.66 L460.13 399.67 L461.07 399.67 L462.01 399.67 L462.94 399.67 L463.88 399.67 L464.82 399.67 L465.75 399.68 L466.69 399.68 L467.63 399.68 L468.56 399.68 L469.50 399.68 L470.44 399.68 L471.37 399.68 L472.31 399.69 L473.25 399.69 L474.19 399.69 L475.12 399.69 L476.06 399.69 L477.00 399.69 L477.93 399.69 L478.87 399.69 L479.81 399.69 L480.74 399.70 L481.68 399.70 L482.62 399.70 L483.55 399.70 L484.49 399.70 L485.43 399.70 L486.36 399.70 L487.30 399.70 L488.24 399.70 L489.17 399.70 L490.11 399.70 L491.05 399.70 L491.98 399.70 L492.92 399.71 L493.86 399.71 L494.80 399.71 L495.73 399.71 L496.67 399.71 L497.61 399.71 L498.54 399.71 L499.48 399.71 L500.42 399.71 L501.35 399.71 L502.29 399.71 L503.23 399.71 L504.16 399.71 L505.10 399.71 L506.04 399.71 L506.97 399.71 L507.91 399.71 L508.85 399.71 L509.78 399.71 L510.72 399.71 L511.66 399.71 L512.59 399.71 L513.53 399.72 L514.47 399.72 L515.41 399.72 L516.34 399.72 L517.28 399.72 L518.22 399.72 L519.15 399.72 L520.09 399.72 L521.03 399.72 L521.96 399.72 L522.90 399.72" stroke="#ff0000" stroke-width="2.7" stroke-dasharray="2 4.4"/>
</g>
<g clip-path="url(#c00)">
<path d="M109.4 73 V130.8 M105.3 73 h8.2 M105.3 130.8 h8.2 M144.5 100.5 V141.3 M140.4 100.5 h8.2 M140.4 141.3 h8.2 M175.8 87.7 V111.2 M171.7 87.7 h8.2 M171.7 111.2 h8.2 M207.1 107.5 V121.5 M203 107.5 h8.2 M203 121.5 h8.2 M238.2 110.8 V119.8 M234.1 110.8 h8.2 M234.1 119.8 h8.2 M269.8 119.2 V124.2 M265.7 119.2 h8.2 M265.7 124.2 h8.2" stroke="#000" stroke-width="1.6" fill="none"/>
<circle cx="109.4" cy="102.1" r="3.5"/>
<circle cx="144.5" cy="121" r="3.5"/>
<circle cx="175.8" cy="99.5" r="3.5"/>
<circle cx="207.1" cy="114.2" r="3.5"/>
<circle cx="238.2" cy="115.4" r="3.5"/>
<circle cx="269.8" cy="121.8" r="3.5"/>
</g>
<g clip-path="url(#c10)">
<path d="M332.2 84.7 V137.9 M328.1 84.7 h8.2 M328.1 137.9 h8.2 M369.5 142.7 V200 M365.4 142.7 h8.2 M365.4 200 h8.2 M400 87.1 V110.2 M395.9 87.1 h8.2 M395.9 110.2 h8.2 M431 102.1 V116.6 M426.9 102.1 h8.2 M426.9 116.6 h8.2 M462.7 113 V121.8 M458.6 113 h8.2 M458.6 121.8 h8.2 M494 117.2 V122.2 M489.9 117.2 h8.2 M489.9 122.2 h8.2" stroke="#000" stroke-width="1.6" fill="none"/>
<circle cx="332.2" cy="111.2" r="3.5"/>
<circle cx="369.5" cy="176" r="3.5"/>
<circle cx="400" cy="98.7" r="3.5"/>
<circle cx="431" cy="109.5" r="3.5"/>
<circle cx="462.7" cy="117.6" r="3.5"/>
<circle cx="494" cy="119.6" r="3.5"/>
</g>
<g clip-path="url(#c01)">
<path d="M107.6 140 V208.2 M103.5 140 h8.2 M103.5 208.2 h8.2 M144.7 257.6 V320 M140.6 257.6 h8.2 M140.6 320 h8.2 M175.2 248.4 V279.3 M171.1 248.4 h8.2 M171.1 279.3 h8.2 M207.3 242.8 V261 M203.2 242.8 h8.2 M203.2 261 h8.2 M238.2 246.6 V257.6 M234.1 246.6 h8.2 M234.1 257.6 h8.2 M269.8 256.6 V261.8 M265.7 256.6 h8.2 M265.7 261.8 h8.2" stroke="#000" stroke-width="1.6" fill="none"/>
<circle cx="107.6" cy="167.65" r="3.5"/>
<circle cx="144.7" cy="284.5" r="3.5"/>
<circle cx="175.2" cy="263.8" r="3.5"/>
<circle cx="207.3" cy="252.2" r="3.5"/>
<circle cx="238.2" cy="252.4" r="3.5"/>
<circle cx="269.8" cy="259.2" r="3.5"/>
</g>
<g clip-path="url(#c11)">
<path d="M330.6 172.1 V249.8 M326.5 172.1 h8.2 M326.5 249.8 h8.2 M369.3 197.6 V251.8 M365.2 197.6 h8.2 M365.2 251.8 h8.2 M399.8 249.4 V279.9 M395.7 249.4 h8.2 M395.7 279.9 h8.2 M431.1 253.4 V271.5 M427 253.4 h8.2 M427 271.5 h8.2 M462.7 256.8 V267.2 M458.6 256.8 h8.2 M458.6 267.2 h8.2 M494 256.2 V261.6 M489.9 256.2 h8.2 M489.9 261.6 h8.2" stroke="#000" stroke-width="1.6" fill="none"/>
<circle cx="330.6" cy="211.2" r="3.5"/>
<circle cx="369.3" cy="224.7" r="3.5"/>
<circle cx="399.8" cy="264.4" r="3.5"/>
<circle cx="431.1" cy="262.8" r="3.5"/>
<circle cx="462.7" cy="262.2" r="3.5"/>
<circle cx="494" cy="259.2" r="3.5"/>
</g>
<g clip-path="url(#c02)">
<path d="M109 319.1 V374.3 M104.9 319.1 h8.2 M104.9 374.3 h8.2 M144.7 387.6 V426.3 M140.6 387.6 h8.2 M140.6 426.3 h8.2 M175.4 369.1 V390.2 M171.3 369.1 h8.2 M171.3 390.2 h8.2 M207.1 380.6 V393.2 M203 380.6 h8.2 M203 393.2 h8.2 M238.2 387.8 V395.2 M234.1 387.8 h8.2 M234.1 395.2 h8.2 M269.8 391.8 V396.4 M265.7 391.8 h8.2 M265.7 396.4 h8.2" stroke="#000" stroke-width="1.6" fill="none"/>
<circle cx="109" cy="346.6" r="3.5"/>
<circle cx="144.7" cy="406.9" r="3.5"/>
<circle cx="175.4" cy="379.8" r="3.5"/>
<circle cx="207.1" cy="387" r="3.5"/>
<circle cx="238.2" cy="391.4" r="3.5"/>
<circle cx="269.8" cy="394.2" r="3.5"/>
</g>
<g clip-path="url(#c12)">
<path d="M332.4 359.5 V409.9 M328.3 359.5 h8.2 M328.3 409.9 h8.2 M369.1 382.2 V419.9 M365 382.2 h8.2 M365 419.9 h8.2 M400 372.1 V393.4 M395.9 372.1 h8.2 M395.9 393.4 h8.2 M431 381.8 V394.8 M426.9 381.8 h8.2 M426.9 394.8 h8.2 M462.7 388.8 V396.6 M458.6 388.8 h8.2 M458.6 396.6 h8.2 M494 390.2 V395.6 M489.9 390.2 h8.2 M489.9 395.6 h8.2" stroke="#000" stroke-width="1.6" fill="none"/>
<circle cx="332.4" cy="384.6" r="3.5"/>
<circle cx="369.1" cy="400.8" r="3.5"/>
<circle cx="400" cy="382.8" r="3.5"/>
<circle cx="431" cy="388.4" r="3.5"/>
<circle cx="462.7" cy="392.8" r="3.5"/>
<circle cx="494" cy="392.8" r="3.5"/>
</g>
<path d="M74.9 152.68 h2.2 M299 152.68 h-2.2 M74.9 144.17 h2.2 M299 144.17 h-2.2 M74.9 135.65 h2.2 M299 135.65 h-2.2 M74.9 127.14 h4.4 M299 127.14 h-4.4 M74.9 118.62 h2.2 M299 118.62 h-2.2 M74.9 110.11 h2.2 M299 110.11 h-2.2 M74.9 101.59 h2.2 M299 101.59 h-2.2 M74.9 93.08 h4.4 M299 93.08 h-4.4 M74.9 84.56 h2.2 M299 84.56 h-2.2 M74.9 76.04 h2.2 M299 76.04 h-2.2 M74.9 67.53 h2.2 M299 67.53 h-2.2 M74.9 59.01 h4.4 M299 59.01 h-4.4 M74.9 50.5 h2.2 M299 50.5 h-2.2 M74.9 41.98 h2.2 M299 41.98 h-2.2 M74.9 33.47 h2.2 M299 33.47 h-2.2 M92.01 24.95 v1.3 M92.01 161.2 v-1.3 M105.27 24.95 v1.3 M105.27 161.2 v-1.3 M116.11 24.95 v1.3 M116.11 161.2 v-1.3 M125.28 24.95 v1.3 M125.28 161.2 v-1.3 M133.22 24.95 v1.3 M133.22 161.2 v-1.3 M140.22 24.95 v1.3 M140.22 161.2 v-1.3 M146.49 24.95 v2.5 M146.49 161.2 v-2.5 M187.7 24.95 v1.3 M187.7 161.2 v-1.3 M211.81 24.95 v1.3 M211.81 161.2 v-1.3 M228.92 24.95 v1.3 M228.92 161.2 v-1.3 M242.19 24.95 v1.3 M242.19 161.2 v-1.3 M253.03 24.95 v1.3 M253.03 161.2 v-1.3 M262.19 24.95 v1.3 M262.19 161.2 v-1.3 M270.13 24.95 v1.3 M270.13 161.2 v-1.3 M277.14 24.95 v1.3 M277.14 161.2 v-1.3 M283.4 24.95 v2.5 M283.4 161.2 v-2.5" stroke="#000" stroke-width="1.45" fill="none"/>
<rect x="74.9" y="24.95" width="224.1" height="136.25" fill="none" stroke="#000" stroke-width="1.45"/>
<path d="M74.9 288.98 h2.2 M299 288.98 h-2.2 M74.9 280.46 h2.2 M299 280.46 h-2.2 M74.9 271.94 h2.2 M299 271.94 h-2.2 M74.9 263.43 h4.4 M299 263.43 h-4.4 M74.9 254.91 h2.2 M299 254.91 h-2.2 M74.9 246.39 h2.2 M299 246.39 h-2.2 M74.9 237.87 h2.2 M299 237.87 h-2.2 M74.9 229.35 h4.4 M299 229.35 h-4.4 M74.9 220.83 h2.2 M299 220.83 h-2.2 M74.9 212.31 h2.2 M299 212.31 h-2.2 M74.9 203.79 h2.2 M299 203.79 h-2.2 M74.9 195.27 h4.4 M299 195.27 h-4.4 M74.9 186.76 h2.2 M299 186.76 h-2.2 M74.9 178.24 h2.2 M299 178.24 h-2.2 M74.9 169.72 h2.2 M299 169.72 h-2.2 M92.01 161.2 v1.3 M92.01 297.5 v-1.3 M105.27 161.2 v1.3 M105.27 297.5 v-1.3 M116.11 161.2 v1.3 M116.11 297.5 v-1.3 M125.28 161.2 v1.3 M125.28 297.5 v-1.3 M133.22 161.2 v1.3 M133.22 297.5 v-1.3 M140.22 161.2 v1.3 M140.22 297.5 v-1.3 M146.49 161.2 v2.5 M146.49 297.5 v-2.5 M187.7 161.2 v1.3 M187.7 297.5 v-1.3 M211.81 161.2 v1.3 M211.81 297.5 v-1.3 M228.92 161.2 v1.3 M228.92 297.5 v-1.3 M242.19 161.2 v1.3 M242.19 297.5 v-1.3 M253.03 161.2 v1.3 M253.03 297.5 v-1.3 M262.19 161.2 v1.3 M262.19 297.5 v-1.3 M270.13 161.2 v1.3 M270.13 297.5 v-1.3 M277.14 161.2 v1.3 M277.14 297.5 v-1.3 M283.4 161.2 v2.5 M283.4 297.5 v-2.5" stroke="#000" stroke-width="1.45" fill="none"/>
<rect x="74.9" y="161.2" width="224.1" height="136.3" fill="none" stroke="#000" stroke-width="1.45"/>
<path d="M74.9 425.28 h2.2 M299 425.28 h-2.2 M74.9 416.76 h2.2 M299 416.76 h-2.2 M74.9 408.24 h2.2 M299 408.24 h-2.2 M74.9 399.73 h4.4 M299 399.73 h-4.4 M74.9 391.21 h2.2 M299 391.21 h-2.2 M74.9 382.69 h2.2 M299 382.69 h-2.2 M74.9 374.17 h2.2 M299 374.17 h-2.2 M74.9 365.65 h4.4 M299 365.65 h-4.4 M74.9 357.13 h2.2 M299 357.13 h-2.2 M74.9 348.61 h2.2 M299 348.61 h-2.2 M74.9 340.09 h2.2 M299 340.09 h-2.2 M74.9 331.57 h4.4 M299 331.57 h-4.4 M74.9 323.06 h2.2 M299 323.06 h-2.2 M74.9 314.54 h2.2 M299 314.54 h-2.2 M74.9 306.02 h2.2 M299 306.02 h-2.2 M92.01 297.5 v1.3 M92.01 433.8 v-1.3 M105.27 297.5 v1.3 M105.27 433.8 v-1.3 M116.11 297.5 v1.3 M116.11 433.8 v-1.3 M125.28 297.5 v1.3 M125.28 433.8 v-1.3 M133.22 297.5 v1.3 M133.22 433.8 v-1.3 M140.22 297.5 v1.3 M140.22 433.8 v-1.3 M146.49 297.5 v2.5 M146.49 433.8 v-2.5 M187.7 297.5 v1.3 M187.7 433.8 v-1.3 M211.81 297.5 v1.3 M211.81 433.8 v-1.3 M228.92 297.5 v1.3 M228.92 433.8 v-1.3 M242.19 297.5 v1.3 M242.19 433.8 v-1.3 M253.03 297.5 v1.3 M253.03 433.8 v-1.3 M262.19 297.5 v1.3 M262.19 433.8 v-1.3 M270.13 297.5 v1.3 M270.13 433.8 v-1.3 M277.14 297.5 v1.3 M277.14 433.8 v-1.3 M283.4 297.5 v2.5 M283.4 433.8 v-2.5" stroke="#000" stroke-width="1.45" fill="none"/>
<rect x="74.9" y="297.5" width="224.1" height="136.3" fill="none" stroke="#000" stroke-width="1.45"/>
<path d="M299 152.68 h2.2 M522.9 152.68 h-2.2 M299 144.17 h2.2 M522.9 144.17 h-2.2 M299 135.65 h2.2 M522.9 135.65 h-2.2 M299 127.14 h4.4 M522.9 127.14 h-4.4 M299 118.62 h2.2 M522.9 118.62 h-2.2 M299 110.11 h2.2 M522.9 110.11 h-2.2 M299 101.59 h2.2 M522.9 101.59 h-2.2 M299 93.08 h4.4 M522.9 93.08 h-4.4 M299 84.56 h2.2 M522.9 84.56 h-2.2 M299 76.04 h2.2 M522.9 76.04 h-2.2 M299 67.53 h2.2 M522.9 67.53 h-2.2 M299 59.01 h4.4 M522.9 59.01 h-4.4 M299 50.5 h2.2 M522.9 50.5 h-2.2 M299 41.98 h2.2 M522.9 41.98 h-2.2 M299 33.47 h2.2 M522.9 33.47 h-2.2 M316.09 24.95 v1.3 M316.09 161.2 v-1.3 M329.35 24.95 v1.3 M329.35 161.2 v-1.3 M340.18 24.95 v1.3 M340.18 161.2 v-1.3 M349.34 24.95 v1.3 M349.34 161.2 v-1.3 M357.27 24.95 v1.3 M357.27 161.2 v-1.3 M364.27 24.95 v1.3 M364.27 161.2 v-1.3 M370.52 24.95 v2.5 M370.52 161.2 v-2.5 M411.7 24.95 v1.3 M411.7 161.2 v-1.3 M435.79 24.95 v1.3 M435.79 161.2 v-1.3 M452.88 24.95 v1.3 M452.88 161.2 v-1.3 M466.14 24.95 v1.3 M466.14 161.2 v-1.3 M476.97 24.95 v1.3 M476.97 161.2 v-1.3 M486.12 24.95 v1.3 M486.12 161.2 v-1.3 M494.06 24.95 v1.3 M494.06 161.2 v-1.3 M501.05 24.95 v1.3 M501.05 161.2 v-1.3 M507.31 24.95 v2.5 M507.31 161.2 v-2.5" stroke="#000" stroke-width="1.45" fill="none"/>
<rect x="299" y="24.95" width="223.9" height="136.25" fill="none" stroke="#000" stroke-width="1.45"/>
<path d="M299 288.98 h2.2 M522.9 288.98 h-2.2 M299 280.46 h2.2 M522.9 280.46 h-2.2 M299 271.94 h2.2 M522.9 271.94 h-2.2 M299 263.43 h4.4 M522.9 263.43 h-4.4 M299 254.91 h2.2 M522.9 254.91 h-2.2 M299 246.39 h2.2 M522.9 246.39 h-2.2 M299 237.87 h2.2 M522.9 237.87 h-2.2 M299 229.35 h4.4 M522.9 229.35 h-4.4 M299 220.83 h2.2 M522.9 220.83 h-2.2 M299 212.31 h2.2 M522.9 212.31 h-2.2 M299 203.79 h2.2 M522.9 203.79 h-2.2 M299 195.27 h4.4 M522.9 195.27 h-4.4 M299 186.76 h2.2 M522.9 186.76 h-2.2 M299 178.24 h2.2 M522.9 178.24 h-2.2 M299 169.72 h2.2 M522.9 169.72 h-2.2 M316.09 161.2 v1.3 M316.09 297.5 v-1.3 M329.35 161.2 v1.3 M329.35 297.5 v-1.3 M340.18 161.2 v1.3 M340.18 297.5 v-1.3 M349.34 161.2 v1.3 M349.34 297.5 v-1.3 M357.27 161.2 v1.3 M357.27 297.5 v-1.3 M364.27 161.2 v1.3 M364.27 297.5 v-1.3 M370.52 161.2 v2.5 M370.52 297.5 v-2.5 M411.7 161.2 v1.3 M411.7 297.5 v-1.3 M435.79 161.2 v1.3 M435.79 297.5 v-1.3 M452.88 161.2 v1.3 M452.88 297.5 v-1.3 M466.14 161.2 v1.3 M466.14 297.5 v-1.3 M476.97 161.2 v1.3 M476.97 297.5 v-1.3 M486.12 161.2 v1.3 M486.12 297.5 v-1.3 M494.06 161.2 v1.3 M494.06 297.5 v-1.3 M501.05 161.2 v1.3 M501.05 297.5 v-1.3 M507.31 161.2 v2.5 M507.31 297.5 v-2.5" stroke="#000" stroke-width="1.45" fill="none"/>
<rect x="299" y="161.2" width="223.9" height="136.3" fill="none" stroke="#000" stroke-width="1.45"/>
<path d="M299 425.28 h2.2 M522.9 425.28 h-2.2 M299 416.76 h2.2 M522.9 416.76 h-2.2 M299 408.24 h2.2 M522.9 408.24 h-2.2 M299 399.73 h4.4 M522.9 399.73 h-4.4 M299 391.21 h2.2 M522.9 391.21 h-2.2 M299 382.69 h2.2 M522.9 382.69 h-2.2 M299 374.17 h2.2 M522.9 374.17 h-2.2 M299 365.65 h4.4 M522.9 365.65 h-4.4 M299 357.13 h2.2 M522.9 357.13 h-2.2 M299 348.61 h2.2 M522.9 348.61 h-2.2 M299 340.09 h2.2 M522.9 340.09 h-2.2 M299 331.57 h4.4 M522.9 331.57 h-4.4 M299 323.06 h2.2 M522.9 323.06 h-2.2 M299 314.54 h2.2 M522.9 314.54 h-2.2 M299 306.02 h2.2 M522.9 306.02 h-2.2 M316.09 297.5 v1.3 M316.09 433.8 v-1.3 M329.35 297.5 v1.3 M329.35 433.8 v-1.3 M340.18 297.5 v1.3 M340.18 433.8 v-1.3 M349.34 297.5 v1.3 M349.34 433.8 v-1.3 M357.27 297.5 v1.3 M357.27 433.8 v-1.3 M364.27 297.5 v1.3 M364.27 433.8 v-1.3 M370.52 297.5 v2.5 M370.52 433.8 v-2.5 M411.7 297.5 v1.3 M411.7 433.8 v-1.3 M435.79 297.5 v1.3 M435.79 433.8 v-1.3 M452.88 297.5 v1.3 M452.88 433.8 v-1.3 M466.14 297.5 v1.3 M466.14 433.8 v-1.3 M476.97 297.5 v1.3 M476.97 433.8 v-1.3 M486.12 297.5 v1.3 M486.12 433.8 v-1.3 M494.06 297.5 v1.3 M494.06 433.8 v-1.3 M501.05 297.5 v1.3 M501.05 433.8 v-1.3 M507.31 297.5 v2.5 M507.31 433.8 v-2.5" stroke="#000" stroke-width="1.45" fill="none"/>
<rect x="299" y="297.5" width="223.9" height="136.3" fill="none" stroke="#000" stroke-width="1.45"/>
<path d="M531.4 156.84 h2.4 M755.6 156.84 h-2.4 M531.4 153.16 h2.4 M755.6 153.16 h-2.4 M531.4 149.97 h2.4 M755.6 149.97 h-2.4 M531.4 147.16 h2.4 M755.6 147.16 h-2.4 M531.4 144.64 h4.8 M755.6 144.64 h-4.8 M531.4 128.08 h2.4 M755.6 128.08 h-2.4 M531.4 118.4 h2.4 M755.6 118.4 h-2.4 M531.4 111.53 h2.4 M755.6 111.53 h-2.4 M531.4 106.2 h2.4 M755.6 106.2 h-2.4 M531.4 101.84 h2.4 M755.6 101.84 h-2.4 M531.4 98.16 h2.4 M755.6 98.16 h-2.4 M531.4 94.97 h2.4 M755.6 94.97 h-2.4 M531.4 92.16 h2.4 M755.6 92.16 h-2.4 M531.4 89.64 h4.8 M755.6 89.64 h-4.8 M531.4 73.08 h2.4 M755.6 73.08 h-2.4 M531.4 63.4 h2.4 M755.6 63.4 h-2.4 M531.4 56.52 h2.4 M755.6 56.52 h-2.4 M531.4 51.19 h2.4 M755.6 51.19 h-2.4 M531.4 46.84 h2.4 M755.6 46.84 h-2.4 M531.4 43.16 h2.4 M755.6 43.16 h-2.4 M531.4 39.97 h2.4 M755.6 39.97 h-2.4 M531.4 37.15 h2.4 M755.6 37.15 h-2.4 M531.4 34.64 h4.8 M755.6 34.64 h-4.8 M548.51 24.95 v1.3 M548.51 161.2 v-1.3 M561.79 24.95 v1.3 M561.79 161.2 v-1.3 M572.63 24.95 v1.3 M572.63 161.2 v-1.3 M581.8 24.95 v1.3 M581.8 161.2 v-1.3 M589.75 24.95 v1.3 M589.75 161.2 v-1.3 M596.75 24.95 v1.3 M596.75 161.2 v-1.3 M603.02 24.95 v2.5 M603.02 161.2 v-2.5 M644.25 24.95 v1.3 M644.25 161.2 v-1.3 M668.37 24.95 v1.3 M668.37 161.2 v-1.3 M685.49 24.95 v1.3 M685.49 161.2 v-1.3 M698.76 24.95 v1.3 M698.76 161.2 v-1.3 M709.61 24.95 v1.3 M709.61 161.2 v-1.3 M718.78 24.95 v1.3 M718.78 161.2 v-1.3 M726.72 24.95 v1.3 M726.72 161.2 v-1.3 M733.73 24.95 v1.3 M733.73 161.2 v-1.3 M739.99 24.95 v2.5 M739.99 161.2 v-2.5" stroke="#000" stroke-width="1.45" fill="none"/>
<rect x="531.4" y="24.95" width="224.2" height="136.25" fill="none" stroke="#000" stroke-width="1.45"/>
<path d="M531.4 293.14 h2.4 M755.6 293.14 h-2.4 M531.4 289.46 h2.4 M755.6 289.46 h-2.4 M531.4 286.27 h2.4 M755.6 286.27 h-2.4 M531.4 283.45 h2.4 M755.6 283.45 h-2.4 M531.4 280.94 h4.8 M755.6 280.94 h-4.8 M531.4 264.37 h2.4 M755.6 264.37 h-2.4 M531.4 254.68 h2.4 M755.6 254.68 h-2.4 M531.4 247.81 h2.4 M755.6 247.81 h-2.4 M531.4 242.48 h2.4 M755.6 242.48 h-2.4 M531.4 238.12 h2.4 M755.6 238.12 h-2.4 M531.4 234.44 h2.4 M755.6 234.44 h-2.4 M531.4 231.25 h2.4 M755.6 231.25 h-2.4 M531.4 228.43 h2.4 M755.6 228.43 h-2.4 M531.4 225.91 h4.8 M755.6 225.91 h-4.8 M531.4 209.35 h2.4 M755.6 209.35 h-2.4 M531.4 199.66 h2.4 M755.6 199.66 h-2.4 M531.4 192.79 h2.4 M755.6 192.79 h-2.4 M531.4 187.45 h2.4 M755.6 187.45 h-2.4 M531.4 183.1 h2.4 M755.6 183.1 h-2.4 M531.4 179.41 h2.4 M755.6 179.41 h-2.4 M531.4 176.22 h2.4 M755.6 176.22 h-2.4 M531.4 173.41 h2.4 M755.6 173.41 h-2.4 M531.4 170.89 h4.8 M755.6 170.89 h-4.8 M548.51 161.2 v1.3 M548.51 297.5 v-1.3 M561.79 161.2 v1.3 M561.79 297.5 v-1.3 M572.63 161.2 v1.3 M572.63 297.5 v-1.3 M581.8 161.2 v1.3 M581.8 297.5 v-1.3 M589.75 161.2 v1.3 M589.75 297.5 v-1.3 M596.75 161.2 v1.3 M596.75 297.5 v-1.3 M603.02 161.2 v2.5 M603.02 297.5 v-2.5 M644.25 161.2 v1.3 M644.25 297.5 v-1.3 M668.37 161.2 v1.3 M668.37 297.5 v-1.3 M685.49 161.2 v1.3 M685.49 297.5 v-1.3 M698.76 161.2 v1.3 M698.76 297.5 v-1.3 M709.61 161.2 v1.3 M709.61 297.5 v-1.3 M718.78 161.2 v1.3 M718.78 297.5 v-1.3 M726.72 161.2 v1.3 M726.72 297.5 v-1.3 M733.73 161.2 v1.3 M733.73 297.5 v-1.3 M739.99 161.2 v2.5 M739.99 297.5 v-2.5" stroke="#000" stroke-width="1.45" fill="none"/>
<rect x="531.4" y="161.2" width="224.2" height="136.3" fill="none" stroke="#000" stroke-width="1.45"/>
<path d="M531.4 429.44 h2.4 M755.6 429.44 h-2.4 M531.4 425.76 h2.4 M755.6 425.76 h-2.4 M531.4 422.57 h2.4 M755.6 422.57 h-2.4 M531.4 419.75 h2.4 M755.6 419.75 h-2.4 M531.4 417.24 h4.8 M755.6 417.24 h-4.8 M531.4 400.67 h2.4 M755.6 400.67 h-2.4 M531.4 390.98 h2.4 M755.6 390.98 h-2.4 M531.4 384.11 h2.4 M755.6 384.11 h-2.4 M531.4 378.78 h2.4 M755.6 378.78 h-2.4 M531.4 374.42 h2.4 M755.6 374.42 h-2.4 M531.4 370.74 h2.4 M755.6 370.74 h-2.4 M531.4 367.55 h2.4 M755.6 367.55 h-2.4 M531.4 364.73 h2.4 M755.6 364.73 h-2.4 M531.4 362.21 h4.8 M755.6 362.21 h-4.8 M531.4 345.65 h2.4 M755.6 345.65 h-2.4 M531.4 335.96 h2.4 M755.6 335.96 h-2.4 M531.4 329.09 h2.4 M755.6 329.09 h-2.4 M531.4 323.75 h2.4 M755.6 323.75 h-2.4 M531.4 319.4 h2.4 M755.6 319.4 h-2.4 M531.4 315.71 h2.4 M755.6 315.71 h-2.4 M531.4 312.52 h2.4 M755.6 312.52 h-2.4 M531.4 309.71 h2.4 M755.6 309.71 h-2.4 M531.4 307.19 h4.8 M755.6 307.19 h-4.8 M548.51 297.5 v1.3 M548.51 433.8 v-1.3 M561.79 297.5 v1.3 M561.79 433.8 v-1.3 M572.63 297.5 v1.3 M572.63 433.8 v-1.3 M581.8 297.5 v1.3 M581.8 433.8 v-1.3 M589.75 297.5 v1.3 M589.75 433.8 v-1.3 M596.75 297.5 v1.3 M596.75 433.8 v-1.3 M603.02 297.5 v2.5 M603.02 433.8 v-2.5 M644.25 297.5 v1.3 M644.25 433.8 v-1.3 M668.37 297.5 v1.3 M668.37 433.8 v-1.3 M685.49 297.5 v1.3 M685.49 433.8 v-1.3 M698.76 297.5 v1.3 M698.76 433.8 v-1.3 M709.61 297.5 v1.3 M709.61 433.8 v-1.3 M718.78 297.5 v1.3 M718.78 433.8 v-1.3 M726.72 297.5 v1.3 M726.72 433.8 v-1.3 M733.73 297.5 v1.3 M733.73 433.8 v-1.3 M739.99 297.5 v2.5 M739.99 433.8 v-2.5" stroke="#000" stroke-width="1.45" fill="none"/>
<rect x="531.4" y="297.5" width="224.2" height="136.3" fill="none" stroke="#000" stroke-width="1.45"/>
<path d="M561.93 161.20 L561.93 161.20 L575.63 161.20 L575.63 161.20 L589.32 161.20 L589.32 128.08 L603.02 128.08 L603.02 144.64 L616.72 144.64 L616.72 161.20 L630.41 161.20 L630.41 128.08 L644.11 128.08 L644.11 144.64 L657.81 144.64 L657.81 111.53 L671.51 111.53 L671.51 101.84 L685.20 101.84 L685.20 111.53 L698.90 111.53 L698.90 118.40 L712.60 118.40 L712.60 144.64 L726.30 144.64 L726.30 161.20" stroke="#ff8000" stroke-width="2.2" fill="none" stroke-linejoin="miter" clip-path="url(#c20)"/>
<path d="M561.93 297.50 L561.93 280.94 L575.63 280.94 L575.63 254.68 L589.32 254.68 L589.32 280.94 L603.02 280.94 L603.02 280.94 L616.72 280.94 L616.72 242.48 L630.41 242.48 L630.41 254.68 L644.11 254.68 L644.11 280.94 L657.81 280.94 L657.81 234.44 L671.51 234.44 L671.51 254.68 L685.20 254.68 L685.20 297.50" stroke="#ff8000" stroke-width="2.2" fill="none" stroke-linejoin="miter" clip-path="url(#c21)"/>
<path d="M561.93 433.80 L561.93 417.24 L575.63 417.24 L575.63 417.24 L589.32 417.24 L589.32 400.67 L603.02 400.67 L603.02 400.67 L616.72 400.67 L616.72 378.78 L630.41 378.78 L630.41 378.78 L644.11 378.78 L644.11 400.67 L657.81 400.67 L657.81 364.73 L671.51 364.73 L671.51 370.74 L685.20 370.74 L685.20 390.98 L698.90 390.98 L698.90 400.67 L712.60 400.67 L712.60 417.24 L726.30 417.24 L726.30 433.80" stroke="#ff8000" stroke-width="2.2" fill="none" stroke-linejoin="miter" clip-path="url(#c22)"/>
<text x="70.3" y="132.54" font-size="15.4" text-anchor="end" >0</text>
<text x="70.3" y="98.48" font-size="15.4" text-anchor="end" >100</text>
<text x="70.3" y="64.41" font-size="15.4" text-anchor="end" >200</text>
<text x="760.2" y="150.04" font-size="15.4" text-anchor="start" >1</text>
<text x="760.2" y="95.04" font-size="15.4" text-anchor="start" >10</text>
<text x="760.2" y="40.04" font-size="15.4" text-anchor="start" >100</text>
<text x="70.3" y="268.82" font-size="15.4" text-anchor="end" >0</text>
<text x="70.3" y="234.75" font-size="15.4" text-anchor="end" >100</text>
<text x="70.3" y="200.67" font-size="15.4" text-anchor="end" >200</text>
<text x="760.2" y="286.34" font-size="15.4" text-anchor="start" >1</text>
<text x="760.2" y="231.31" font-size="15.4" text-anchor="start" >10</text>
<text x="760.2" y="176.29" font-size="15.4" text-anchor="start" >100</text>
<text x="70.3" y="405.12" font-size="15.4" text-anchor="end" >0</text>
<text x="70.3" y="371.05" font-size="15.4" text-anchor="end" >100</text>
<text x="70.3" y="336.97" font-size="15.4" text-anchor="end" >200</text>
<text x="760.2" y="422.64" font-size="15.4" text-anchor="start" >1</text>
<text x="760.2" y="367.61" font-size="15.4" text-anchor="start" >10</text>
<text x="760.2" y="312.59" font-size="15.4" text-anchor="start" >100</text>
<text x="145.89" y="453.2" font-size="15.4" text-anchor="middle" >0.1</text>
<text x="282.8" y="453.2" font-size="15.4" text-anchor="middle" >1.0</text>
<text x="369.92" y="453.2" font-size="15.4" text-anchor="middle" >0.1</text>
<text x="506.71" y="453.2" font-size="15.4" text-anchor="middle" >1.0</text>
<text x="602.42" y="453.2" font-size="15.4" text-anchor="middle" >0.1</text>
<text x="739.39" y="453.2" font-size="15.4" text-anchor="middle" >1.0</text>
<text x="150.37" y="41.85" font-size="13.8">log(M</text>
<text x="185.38" y="44.75" font-size="8.7">200c</text>
<text x="203.84" y="41.85" font-size="13.8">/</text>
<text x="208.37" y="41.85" font-size="13.8">M</text>
<circle cx="223.27" cy="41.75" r="2.85" fill="none" stroke="#000" stroke-width="0.8"/>
<circle cx="223.27" cy="41.75" r="0.85"/>
<text x="225.07" y="41.85" font-size="13.8">):</text>
<text x="162.13" y="57.75" font-size="13.8">log(M</text>
<polygon points="200.54,54.75 201.36,57.12 203.87,57.17 201.87,58.68 202.6,61.08 200.54,59.65 198.48,61.08 199.21,58.68 197.21,57.17 199.72,57.12"/>
<text x="203.84" y="57.75" font-size="13.8">/</text>
<text x="208.37" y="57.75" font-size="13.8">M</text>
<circle cx="223.27" cy="57.65" r="2.85" fill="none" stroke="#000" stroke-width="0.8"/>
<circle cx="223.27" cy="57.65" r="0.85"/>
<text x="225.07" y="57.75" font-size="13.8">):</text>
<text x="217.82" y="73.85" font-size="14" font-family="Liberation Serif, serif" font-style="italic" stroke="#000" stroke-width="0.35">χ</text>
<text x="224.72" y="68.05" font-size="8.9">2</text>
<text x="229.67" y="73.65" font-size="13.8">:</text>
<text x="284.8" y="41.85" font-size="13.8" text-anchor="end" >13.27</text>
<text x="284.8" y="57.75" font-size="13.8" text-anchor="end" >10.81</text>
<text x="284.8" y="73.65" font-size="13.8" text-anchor="end" >3.16</text>
<text x="386.43" y="41.85" font-size="13.8">log(M</text>
<polygon points="424.84,38.85 425.66,41.22 428.17,41.27 426.17,42.78 426.9,45.18 424.84,43.75 422.78,45.18 423.51,42.78 421.51,41.27 424.02,41.22"/>
<text x="428.14" y="41.85" font-size="13.8">/</text>
<text x="432.67" y="41.85" font-size="13.8">M</text>
<circle cx="447.57" cy="41.75" r="2.85" fill="none" stroke="#000" stroke-width="0.8"/>
<circle cx="447.57" cy="41.75" r="0.85"/>
<text x="449.37" y="41.85" font-size="13.8">):</text>
<text x="442.12" y="57.95" font-size="14" font-family="Liberation Serif, serif" font-style="italic" stroke="#000" stroke-width="0.35">χ</text>
<text x="449.02" y="52.15" font-size="8.9">2</text>
<text x="453.97" y="57.75" font-size="13.8">:</text>
<text x="509.7" y="41.85" font-size="13.8" text-anchor="end" >11.19</text>
<text x="509.7" y="57.75" font-size="13.8" text-anchor="end" >19.96</text>
<text x="656.97" y="41.85" font-size="13.8">N</text>
<text x="666.93" y="44.65" font-size="8.5">Lens</text>
<text x="685.37" y="41.85" font-size="13.8">:</text>
<text x="643.92" y="56.25" font-size="13.8">&lt;z</text>
<text x="658.88" y="59.05" font-size="8.5">Lens</text>
<text x="677.31" y="56.25" font-size="13.8">&gt;:</text>
<text x="741.5" y="41.85" font-size="13.8" text-anchor="end" >24</text>
<text x="741.5" y="56.25" font-size="13.8" text-anchor="end" >0.53</text>
<text x="207.36" y="153.05" font-size="16.8">MMGG</text>
<text x="261.49" y="157.95" font-size="10.2">scale</text>
<text x="430.89" y="153.05" font-size="16.8">MMGG</text>
<text x="485.02" y="157.95" font-size="10.2">R200</text>
<text x="150.37" y="177.8" font-size="13.8">log(M</text>
<text x="185.38" y="180.7" font-size="8.7">200c</text>
<text x="203.84" y="177.8" font-size="13.8">/</text>
<text x="208.37" y="177.8" font-size="13.8">M</text>
<circle cx="223.27" cy="177.7" r="2.85" fill="none" stroke="#000" stroke-width="0.8"/>
<circle cx="223.27" cy="177.7" r="0.85"/>
<text x="225.07" y="177.8" font-size="13.8">):</text>
<text x="162.13" y="193.7" font-size="13.8">log(M</text>
<polygon points="200.54,190.7 201.36,193.07 203.87,193.12 201.87,194.63 202.6,197.03 200.54,195.6 198.48,197.03 199.21,194.63 197.21,193.12 199.72,193.07"/>
<text x="203.84" y="193.7" font-size="13.8">/</text>
<text x="208.37" y="193.7" font-size="13.8">M</text>
<circle cx="223.27" cy="193.6" r="2.85" fill="none" stroke="#000" stroke-width="0.8"/>
<circle cx="223.27" cy="193.6" r="0.85"/>
<text x="225.07" y="193.7" font-size="13.8">):</text>
<text x="217.82" y="209.8" font-size="14" font-family="Liberation Serif, serif" font-style="italic" stroke="#000" stroke-width="0.35">χ</text>
<text x="224.72" y="204" font-size="8.9">2</text>
<text x="229.67" y="209.6" font-size="13.8">:</text>
<text x="284.8" y="177.8" font-size="13.8" text-anchor="end" >12.56</text>
<text x="284.8" y="193.7" font-size="13.8" text-anchor="end" >11.17</text>
<text x="284.8" y="209.6" font-size="13.8" text-anchor="end" >8.95</text>
<text x="386.43" y="177.8" font-size="13.8">log(M</text>
<polygon points="424.84,174.8 425.66,177.17 428.17,177.22 426.17,178.73 426.9,181.13 424.84,179.7 422.78,181.13 423.51,178.73 421.51,177.22 424.02,177.17"/>
<text x="428.14" y="177.8" font-size="13.8">/</text>
<text x="432.67" y="177.8" font-size="13.8">M</text>
<circle cx="447.57" cy="177.7" r="2.85" fill="none" stroke="#000" stroke-width="0.8"/>
<circle cx="447.57" cy="177.7" r="0.85"/>
<text x="449.37" y="177.8" font-size="13.8">):</text>
<text x="442.12" y="193.9" font-size="14" font-family="Liberation Serif, serif" font-style="italic" stroke="#000" stroke-width="0.35">χ</text>
<text x="449.02" y="188.1" font-size="8.9">2</text>
<text x="453.97" y="193.7" font-size="13.8">:</text>
<text x="509.7" y="177.8" font-size="13.8" text-anchor="end" >10.89</text>
<text x="509.7" y="193.7" font-size="13.8" text-anchor="end" >4.51</text>
<text x="656.97" y="177.8" font-size="13.8">N</text>
<text x="666.93" y="180.6" font-size="8.5">Lens</text>
<text x="685.37" y="177.8" font-size="13.8">:</text>
<text x="643.92" y="192.2" font-size="13.8">&lt;z</text>
<text x="658.88" y="195" font-size="8.5">Lens</text>
<text x="677.31" y="192.2" font-size="13.8">&gt;:</text>
<text x="741.5" y="177.8" font-size="13.8" text-anchor="end" >25</text>
<text x="741.5" y="192.2" font-size="13.8" text-anchor="end" >0.73</text>
<text x="207.36" y="289.3" font-size="16.8">MMGG</text>
<text x="261.49" y="294.2" font-size="10.2">scale</text>
<text x="448.25" y="289.3" font-size="16.8">BGG</text>
<text x="485.59" y="294.2" font-size="10.2">scale</text>
<text x="150.37" y="313.85" font-size="13.8">log(M</text>
<text x="185.38" y="316.75" font-size="8.7">200c</text>
<text x="203.84" y="313.85" font-size="13.8">/</text>
<text x="208.37" y="313.85" font-size="13.8">M</text>
<circle cx="223.27" cy="313.75" r="2.85" fill="none" stroke="#000" stroke-width="0.8"/>
<circle cx="223.27" cy="313.75" r="0.85"/>
<text x="225.07" y="313.85" font-size="13.8">):</text>
<text x="162.13" y="329.75" font-size="13.8">log(M</text>
<polygon points="200.54,326.75 201.36,329.12 203.87,329.17 201.87,330.68 202.6,333.08 200.54,331.65 198.48,333.08 199.21,330.68 197.21,329.17 199.72,329.12"/>
<text x="203.84" y="329.75" font-size="13.8">/</text>
<text x="208.37" y="329.75" font-size="13.8">M</text>
<circle cx="223.27" cy="329.65" r="2.85" fill="none" stroke="#000" stroke-width="0.8"/>
<circle cx="223.27" cy="329.65" r="0.85"/>
<text x="225.07" y="329.75" font-size="13.8">):</text>
<text x="217.82" y="345.85" font-size="14" font-family="Liberation Serif, serif" font-style="italic" stroke="#000" stroke-width="0.35">χ</text>
<text x="224.72" y="340.05" font-size="8.9">2</text>
<text x="229.67" y="345.65" font-size="13.8">:</text>
<text x="284.8" y="313.85" font-size="13.8" text-anchor="end" >13.14</text>
<text x="284.8" y="329.75" font-size="13.8" text-anchor="end" >11.03</text>
<text x="284.8" y="345.65" font-size="13.8" text-anchor="end" >4.92</text>
<text x="386.43" y="313.85" font-size="13.8">log(M</text>
<polygon points="424.84,310.85 425.66,313.22 428.17,313.27 426.17,314.78 426.9,317.18 424.84,315.75 422.78,317.18 423.51,314.78 421.51,313.27 424.02,313.22"/>
<text x="428.14" y="313.85" font-size="13.8">/</text>
<text x="432.67" y="313.85" font-size="13.8">M</text>
<circle cx="447.57" cy="313.75" r="2.85" fill="none" stroke="#000" stroke-width="0.8"/>
<circle cx="447.57" cy="313.75" r="0.85"/>
<text x="449.37" y="313.85" font-size="13.8">):</text>
<text x="442.12" y="329.95" font-size="14" font-family="Liberation Serif, serif" font-style="italic" stroke="#000" stroke-width="0.35">χ</text>
<text x="449.02" y="324.15" font-size="8.9">2</text>
<text x="453.97" y="329.75" font-size="13.8">:</text>
<text x="509.7" y="313.85" font-size="13.8" text-anchor="end" >11.05</text>
<text x="509.7" y="329.75" font-size="13.8" text-anchor="end" >7.86</text>
<text x="656.97" y="313.85" font-size="13.8">N</text>
<text x="666.93" y="316.65" font-size="8.5">Lens</text>
<text x="685.37" y="313.85" font-size="13.8">:</text>
<text x="643.92" y="328.25" font-size="13.8">&lt;z</text>
<text x="658.88" y="331.05" font-size="8.5">Lens</text>
<text x="677.31" y="328.25" font-size="13.8">&gt;:</text>
<text x="741.5" y="313.85" font-size="13.8" text-anchor="end" >40</text>
<text x="741.5" y="328.25" font-size="13.8" text-anchor="end" >0.65</text>
<text x="207.36" y="425.6" font-size="16.8">MMGG</text>
<text x="261.49" y="430.5" font-size="10.2">scale</text>
<text x="447.67" y="425.6" font-size="16.8">BGG</text>
<text x="485.02" y="430.5" font-size="10.2">R200</text>
<text x="194.4" y="481.2" font-size="23.7">Physical transverse distance,</text>
<text x="501.32" y="481.2" font-size="23.7"></text>
<text x="515.5" y="481.2" font-size="23.7">R (h</text>
<text x="559.67" y="471.2" font-size="13.6" text-anchor="start" >-1</text>
<text x="559.37" y="487" font-size="14.6" text-anchor="start" >72</text>
<text x="576.57" y="481.2" font-size="23.7" text-anchor="start" > Mpc)</text>
<g transform="translate(24.6 392.5) rotate(-90)">
<text x="0" y="0" font-size="25" font-family="Liberation Serif, serif">ΔΣ</text>
<text x="30.63" y="0" font-size="23.5"> = </text>
<text x="57.41" y="0" font-size="23.5"></text>
<text x="56.21" y="0" font-size="25" font-family="Liberation Serif, serif">Σ</text>
<text x="70.76" y="0" font-size="23.5">(&lt;R)</text>
<text x="117.11" y="0" font-size="23.5"></text>
<text x="118.31" y="0" font-size="23.5"> - </text>
<text x="139.19" y="0" font-size="25" font-family="Liberation Serif, serif">Σ</text>
<text x="153.74" y="0" font-size="23.5">(R)  (h</text>
<text x="220.32" y="0" font-size="23.5"></text>
<text x="221.32" y="5" font-size="14.6">72</text>
<text x="237.56" y="0" font-size="23.5"> M</text>
<circle cx="270.36" cy="0.6" r="5.2" fill="none" stroke="#000" stroke-width="1.25"/>
<circle cx="270.36" cy="0.6" r="1.56"/>
<text x="277.06" y="0" font-size="23.5"></text>
<text x="279.86" y="0" font-size="23.5">pc</text>
<text x="304.68" y="-9.5" font-size="14.6">-2</text>
<text x="317.66" y="0" font-size="23.5">)</text>
<path d="M57.71 -19.6 h11.55" stroke="#000" stroke-width="1.3"/>
</g>
<g transform="translate(810.2 385.2) rotate(-90)">
<text x="0" y="0" font-size="23.75">Distribution of Offsets (N</text>
<text x="258.69" y="5.6" font-size="14.8">groups</text>
<text x="303.94" y="0" font-size="23.75">)</text>
</g>
</svg>
</body></html>
